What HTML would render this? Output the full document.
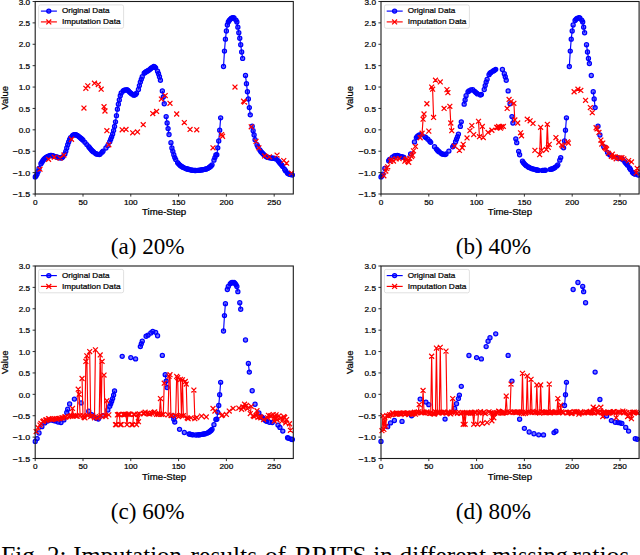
<!DOCTYPE html>
<html><head><meta charset="utf-8"><style>
html,body{margin:0;padding:0;background:#fff;overflow:hidden;}
svg{display:block;}
.t text{stroke:#000;stroke-width:0.22px;}
</style></head><body>
<svg width="640" height="555" viewBox="0 0 640 555" font-family='"Liberation Sans", sans-serif'>
<defs><clipPath id="clip0"><rect x="32.2" y="-1.5" width="264.1" height="198.5"/></clipPath><clipPath id="clip1"><rect x="378" y="-1.5" width="264.1" height="198.5"/></clipPath><clipPath id="clip2"><rect x="32.2" y="263" width="264.1" height="198.5"/></clipPath><clipPath id="clip3"><rect x="378" y="263" width="264.1" height="198.5"/></clipPath></defs>
<rect width="640" height="555" fill="#fff"/>
<g class="t">
<line x1="35.2" y1="194" x2="35.2" y2="196.6" stroke="#000" stroke-width="0.8"/>
<text x="35.2" y="204.9" font-size="7.9" text-anchor="middle" textLength="4.58" lengthAdjust="spacingAndGlyphs">0</text>
<line x1="83" y1="194" x2="83" y2="196.6" stroke="#000" stroke-width="0.8"/>
<text x="83" y="204.9" font-size="7.9" text-anchor="middle" textLength="9.16" lengthAdjust="spacingAndGlyphs">50</text>
<line x1="130.79" y1="194" x2="130.79" y2="196.6" stroke="#000" stroke-width="0.8"/>
<text x="130.79" y="204.9" font-size="7.9" text-anchor="middle" textLength="13.74" lengthAdjust="spacingAndGlyphs">100</text>
<line x1="178.59" y1="194" x2="178.59" y2="196.6" stroke="#000" stroke-width="0.8"/>
<text x="178.59" y="204.9" font-size="7.9" text-anchor="middle" textLength="13.74" lengthAdjust="spacingAndGlyphs">150</text>
<line x1="226.39" y1="194" x2="226.39" y2="196.6" stroke="#000" stroke-width="0.8"/>
<text x="226.39" y="204.9" font-size="7.9" text-anchor="middle" textLength="13.74" lengthAdjust="spacingAndGlyphs">200</text>
<line x1="274.18" y1="194" x2="274.18" y2="196.6" stroke="#000" stroke-width="0.8"/>
<text x="274.18" y="204.9" font-size="7.9" text-anchor="middle" textLength="13.74" lengthAdjust="spacingAndGlyphs">250</text>
<line x1="32.6" y1="194" x2="35.2" y2="194" stroke="#000" stroke-width="0.8"/>
<text x="30.2" y="197.2" font-size="7.9" text-anchor="end" textLength="17.48" lengthAdjust="spacingAndGlyphs">−1.5</text>
<line x1="32.6" y1="172.61" x2="35.2" y2="172.61" stroke="#000" stroke-width="0.8"/>
<text x="30.2" y="175.81" font-size="7.9" text-anchor="end" textLength="17.48" lengthAdjust="spacingAndGlyphs">−1.0</text>
<line x1="32.6" y1="151.22" x2="35.2" y2="151.22" stroke="#000" stroke-width="0.8"/>
<text x="30.2" y="154.42" font-size="7.9" text-anchor="end" textLength="17.48" lengthAdjust="spacingAndGlyphs">−0.5</text>
<line x1="32.6" y1="129.83" x2="35.2" y2="129.83" stroke="#000" stroke-width="0.8"/>
<text x="30.2" y="133.03" font-size="7.9" text-anchor="end" textLength="11.45" lengthAdjust="spacingAndGlyphs">0.0</text>
<line x1="32.6" y1="108.44" x2="35.2" y2="108.44" stroke="#000" stroke-width="0.8"/>
<text x="30.2" y="111.64" font-size="7.9" text-anchor="end" textLength="11.45" lengthAdjust="spacingAndGlyphs">0.5</text>
<line x1="32.6" y1="87.06" x2="35.2" y2="87.06" stroke="#000" stroke-width="0.8"/>
<text x="30.2" y="90.26" font-size="7.9" text-anchor="end" textLength="11.45" lengthAdjust="spacingAndGlyphs">1.0</text>
<line x1="32.6" y1="65.67" x2="35.2" y2="65.67" stroke="#000" stroke-width="0.8"/>
<text x="30.2" y="68.87" font-size="7.9" text-anchor="end" textLength="11.45" lengthAdjust="spacingAndGlyphs">1.5</text>
<line x1="32.6" y1="44.28" x2="35.2" y2="44.28" stroke="#000" stroke-width="0.8"/>
<text x="30.2" y="47.48" font-size="7.9" text-anchor="end" textLength="11.45" lengthAdjust="spacingAndGlyphs">2.0</text>
<line x1="32.6" y1="22.89" x2="35.2" y2="22.89" stroke="#000" stroke-width="0.8"/>
<text x="30.2" y="26.09" font-size="7.9" text-anchor="end" textLength="11.45" lengthAdjust="spacingAndGlyphs">2.5</text>
<line x1="32.6" y1="1.5" x2="35.2" y2="1.5" stroke="#000" stroke-width="0.8"/>
<text x="30.2" y="4.7" font-size="7.9" text-anchor="end" textLength="11.45" lengthAdjust="spacingAndGlyphs">3.0</text>
<text x="164.15" y="215" font-size="8.6" text-anchor="middle" textLength="44.2" lengthAdjust="spacingAndGlyphs">Time-Step</text>
<text transform="translate(7.6,97.75) rotate(-90)" font-size="8.6" text-anchor="middle" textLength="23.5" lengthAdjust="spacingAndGlyphs">Value</text>
<g clip-path="url(#clip0)">
<path d="M35.2 176.89L36.16 175.87L37.11 174.11L38.07 171.47L39.02 168.49M40.94 163.72L41.89 162.13L42.85 160.68L43.8 159.42L44.76 158.39L45.72 157.64L46.67 157.05L47.63 156.5M49.54 155.69L50.49 155.52L51.45 155.53L52.41 155.71L53.36 155.98M55.27 156.62L56.23 156.89L57.19 157.19L58.14 157.51L59.1 157.8M61.01 158.06L61.97 157.65L62.92 156.69M64.83 153.89L65.79 151.37L66.75 148.02L67.7 144.63L68.66 141.94L69.61 139.53L70.57 137.61M72.48 135.62L73.44 134.94L74.39 134.57L75.35 134.59L76.3 134.89L77.26 135.4L78.22 136.06L79.17 136.82L80.13 137.61L81.08 138.39L82.04 139.22L83 140.18M88.73 146.77L89.69 147.93L90.64 149.08L91.6 150.17L92.56 151.14L93.51 151.94M95.42 153.3L96.38 153.9L97.34 154.37M99.25 154.55L100.2 154.04M102.11 152.16L103.07 151.08M109.76 141.79L110.72 139.24L111.67 136.83L112.63 134.11L113.59 130.57L114.54 126.41L115.5 121.83L116.45 115.68L117.41 109.17L118.37 104.19L119.32 99.91L120.28 95.74L121.23 92.89M123.15 90.98L124.1 90.33L125.06 89.88M126.97 89.72L127.92 90.36L128.88 91.33L129.84 92.3L130.79 93.08L131.75 93.92M133.66 95.14L134.62 95.06L135.57 94.39L136.53 93.25M138.44 89.51L139.4 85.57L140.35 82.07L141.31 79.31L142.26 76.75M144.18 73.27L145.13 72.39L146.09 71.72L147.04 71.16L148 70.64L148.96 70.07L149.91 69.36L150.87 68.52L151.82 67.66M153.73 66.34L154.69 66.95L155.65 67.81M157.56 71.23L158.51 73.79L159.47 76.79L160.43 80.21M162.34 90.91L163.29 96.89L164.25 103.74M166.16 116.57L167.12 122.99L168.07 128.55L169.03 134.54M170.94 142.67L171.9 147.98L172.85 151.37L173.81 154.74L174.77 157.62L175.72 159.6M177.63 162.67L178.59 163.86L179.54 164.85L180.5 165.64L181.46 166.33L182.41 166.95L183.37 167.49M185.28 168.37L186.24 168.7L187.19 168.99L188.15 169.26L189.1 169.52M191.02 169.98L191.97 170.17L192.93 170.31L193.88 170.42L194.84 170.47L195.8 170.47M197.71 170.38L198.66 170.3L199.62 170.2L200.58 170.07L201.53 169.93L202.49 169.76L203.44 169.59L204.4 169.39L205.35 169.19L206.31 168.93L207.27 168.56L208.22 168.08L209.18 167.48L210.13 166.76L211.09 165.91L212.05 164.83M213.96 160.14L214.91 157.58L215.87 155.01L216.83 154.64L217.78 147.8L218.74 140.96L219.69 130.26L220.65 117.86M223.52 66.52L224.47 51.12L225.43 39.14L226.39 31.02L227.34 25.03L228.3 22.03L229.25 20.51L230.21 19.35L231.16 18.5L232.12 17.96L233.08 17.76L234.03 18M235.94 20.09L236.9 22.03L237.86 27.17L238.81 32.73L239.77 38.29L240.72 44.71L241.68 51.98L242.64 58.39M245.5 75.51L246.46 83.63L247.42 91.76L248.37 99.03L249.33 107.59L250.28 114.86M252.2 126.2L253.15 130.69L254.11 134.97L255.06 139.74M256.97 144.78L257.93 146.71M259.84 150.02L260.8 151.38L261.75 152.53L262.71 153.51L263.67 154.43M265.58 156.07L266.53 156.73L267.49 157.25L268.45 157.59M270.36 157.92L271.31 158.01L272.27 158.09L273.23 158.18L274.18 158.31L275.14 158.49L276.09 158.9M278.01 160.6L278.96 161.72L279.92 162.92L280.87 164.12L281.83 165.25L282.78 166.55M284.7 169.51L285.65 170.94M287.56 173.14L288.52 173.72L289.48 174.14L290.43 174.47" fill="none" stroke="#00f" stroke-width="1.15" stroke-linejoin="round"/>
<g fill="#00f" fill-opacity="0.55" stroke="#00f" stroke-width="1.25"><circle cx="35.2" cy="176.89" r="2.05"/><circle cx="36.16" cy="175.87" r="2.05"/><circle cx="37.11" cy="174.11" r="2.05"/><circle cx="38.07" cy="171.47" r="2.05"/><circle cx="39.02" cy="168.49" r="2.05"/><circle cx="40.94" cy="163.72" r="2.05"/><circle cx="41.89" cy="162.13" r="2.05"/><circle cx="42.85" cy="160.68" r="2.05"/><circle cx="43.8" cy="159.42" r="2.05"/><circle cx="44.76" cy="158.39" r="2.05"/><circle cx="45.72" cy="157.64" r="2.05"/><circle cx="46.67" cy="157.05" r="2.05"/><circle cx="47.63" cy="156.5" r="2.05"/><circle cx="49.54" cy="155.69" r="2.05"/><circle cx="50.49" cy="155.52" r="2.05"/><circle cx="51.45" cy="155.53" r="2.05"/><circle cx="52.41" cy="155.71" r="2.05"/><circle cx="53.36" cy="155.98" r="2.05"/><circle cx="55.27" cy="156.62" r="2.05"/><circle cx="56.23" cy="156.89" r="2.05"/><circle cx="57.19" cy="157.19" r="2.05"/><circle cx="58.14" cy="157.51" r="2.05"/><circle cx="59.1" cy="157.8" r="2.05"/><circle cx="61.01" cy="158.06" r="2.05"/><circle cx="61.97" cy="157.65" r="2.05"/><circle cx="62.92" cy="156.69" r="2.05"/><circle cx="64.83" cy="153.89" r="2.05"/><circle cx="65.79" cy="151.37" r="2.05"/><circle cx="66.75" cy="148.02" r="2.05"/><circle cx="67.7" cy="144.63" r="2.05"/><circle cx="68.66" cy="141.94" r="2.05"/><circle cx="69.61" cy="139.53" r="2.05"/><circle cx="70.57" cy="137.61" r="2.05"/><circle cx="72.48" cy="135.62" r="2.05"/><circle cx="73.44" cy="134.94" r="2.05"/><circle cx="74.39" cy="134.57" r="2.05"/><circle cx="75.35" cy="134.59" r="2.05"/><circle cx="76.3" cy="134.89" r="2.05"/><circle cx="77.26" cy="135.4" r="2.05"/><circle cx="78.22" cy="136.06" r="2.05"/><circle cx="79.17" cy="136.82" r="2.05"/><circle cx="80.13" cy="137.61" r="2.05"/><circle cx="81.08" cy="138.39" r="2.05"/><circle cx="82.04" cy="139.22" r="2.05"/><circle cx="83" cy="140.18" r="2.05"/><circle cx="84.91" cy="142.36" r="2.05"/><circle cx="86.82" cy="144.6" r="2.05"/><circle cx="88.73" cy="146.77" r="2.05"/><circle cx="89.69" cy="147.93" r="2.05"/><circle cx="90.64" cy="149.08" r="2.05"/><circle cx="91.6" cy="150.17" r="2.05"/><circle cx="92.56" cy="151.14" r="2.05"/><circle cx="93.51" cy="151.94" r="2.05"/><circle cx="95.42" cy="153.3" r="2.05"/><circle cx="96.38" cy="153.9" r="2.05"/><circle cx="97.34" cy="154.37" r="2.05"/><circle cx="99.25" cy="154.55" r="2.05"/><circle cx="100.2" cy="154.04" r="2.05"/><circle cx="102.11" cy="152.16" r="2.05"/><circle cx="103.07" cy="151.08" r="2.05"/><circle cx="105.94" cy="148.03" r="2.05"/><circle cx="107.85" cy="145.51" r="2.05"/><circle cx="109.76" cy="141.79" r="2.05"/><circle cx="110.72" cy="139.24" r="2.05"/><circle cx="111.67" cy="136.83" r="2.05"/><circle cx="112.63" cy="134.11" r="2.05"/><circle cx="113.59" cy="130.57" r="2.05"/><circle cx="114.54" cy="126.41" r="2.05"/><circle cx="115.5" cy="121.83" r="2.05"/><circle cx="116.45" cy="115.68" r="2.05"/><circle cx="117.41" cy="109.17" r="2.05"/><circle cx="118.37" cy="104.19" r="2.05"/><circle cx="119.32" cy="99.91" r="2.05"/><circle cx="120.28" cy="95.74" r="2.05"/><circle cx="121.23" cy="92.89" r="2.05"/><circle cx="123.15" cy="90.98" r="2.05"/><circle cx="124.1" cy="90.33" r="2.05"/><circle cx="125.06" cy="89.88" r="2.05"/><circle cx="126.97" cy="89.72" r="2.05"/><circle cx="127.92" cy="90.36" r="2.05"/><circle cx="128.88" cy="91.33" r="2.05"/><circle cx="129.84" cy="92.3" r="2.05"/><circle cx="130.79" cy="93.08" r="2.05"/><circle cx="131.75" cy="93.92" r="2.05"/><circle cx="133.66" cy="95.14" r="2.05"/><circle cx="134.62" cy="95.06" r="2.05"/><circle cx="135.57" cy="94.39" r="2.05"/><circle cx="136.53" cy="93.25" r="2.05"/><circle cx="138.44" cy="89.51" r="2.05"/><circle cx="139.4" cy="85.57" r="2.05"/><circle cx="140.35" cy="82.07" r="2.05"/><circle cx="141.31" cy="79.31" r="2.05"/><circle cx="142.26" cy="76.75" r="2.05"/><circle cx="144.18" cy="73.27" r="2.05"/><circle cx="145.13" cy="72.39" r="2.05"/><circle cx="146.09" cy="71.72" r="2.05"/><circle cx="147.04" cy="71.16" r="2.05"/><circle cx="148" cy="70.64" r="2.05"/><circle cx="148.96" cy="70.07" r="2.05"/><circle cx="149.91" cy="69.36" r="2.05"/><circle cx="150.87" cy="68.52" r="2.05"/><circle cx="151.82" cy="67.66" r="2.05"/><circle cx="153.73" cy="66.34" r="2.05"/><circle cx="154.69" cy="66.95" r="2.05"/><circle cx="155.65" cy="67.81" r="2.05"/><circle cx="157.56" cy="71.23" r="2.05"/><circle cx="158.51" cy="73.79" r="2.05"/><circle cx="159.47" cy="76.79" r="2.05"/><circle cx="160.43" cy="80.21" r="2.05"/><circle cx="162.34" cy="90.91" r="2.05"/><circle cx="163.29" cy="96.89" r="2.05"/><circle cx="164.25" cy="103.74" r="2.05"/><circle cx="166.16" cy="116.57" r="2.05"/><circle cx="167.12" cy="122.99" r="2.05"/><circle cx="168.07" cy="128.55" r="2.05"/><circle cx="169.03" cy="134.54" r="2.05"/><circle cx="170.94" cy="142.67" r="2.05"/><circle cx="171.9" cy="147.98" r="2.05"/><circle cx="172.85" cy="151.37" r="2.05"/><circle cx="173.81" cy="154.74" r="2.05"/><circle cx="174.77" cy="157.62" r="2.05"/><circle cx="175.72" cy="159.6" r="2.05"/><circle cx="177.63" cy="162.67" r="2.05"/><circle cx="178.59" cy="163.86" r="2.05"/><circle cx="179.54" cy="164.85" r="2.05"/><circle cx="180.5" cy="165.64" r="2.05"/><circle cx="181.46" cy="166.33" r="2.05"/><circle cx="182.41" cy="166.95" r="2.05"/><circle cx="183.37" cy="167.49" r="2.05"/><circle cx="185.28" cy="168.37" r="2.05"/><circle cx="186.24" cy="168.7" r="2.05"/><circle cx="187.19" cy="168.99" r="2.05"/><circle cx="188.15" cy="169.26" r="2.05"/><circle cx="189.1" cy="169.52" r="2.05"/><circle cx="191.02" cy="169.98" r="2.05"/><circle cx="191.97" cy="170.17" r="2.05"/><circle cx="192.93" cy="170.31" r="2.05"/><circle cx="193.88" cy="170.42" r="2.05"/><circle cx="194.84" cy="170.47" r="2.05"/><circle cx="195.8" cy="170.47" r="2.05"/><circle cx="197.71" cy="170.38" r="2.05"/><circle cx="198.66" cy="170.3" r="2.05"/><circle cx="199.62" cy="170.2" r="2.05"/><circle cx="200.58" cy="170.07" r="2.05"/><circle cx="201.53" cy="169.93" r="2.05"/><circle cx="202.49" cy="169.76" r="2.05"/><circle cx="203.44" cy="169.59" r="2.05"/><circle cx="204.4" cy="169.39" r="2.05"/><circle cx="205.35" cy="169.19" r="2.05"/><circle cx="206.31" cy="168.93" r="2.05"/><circle cx="207.27" cy="168.56" r="2.05"/><circle cx="208.22" cy="168.08" r="2.05"/><circle cx="209.18" cy="167.48" r="2.05"/><circle cx="210.13" cy="166.76" r="2.05"/><circle cx="211.09" cy="165.91" r="2.05"/><circle cx="212.05" cy="164.83" r="2.05"/><circle cx="213.96" cy="160.14" r="2.05"/><circle cx="214.91" cy="157.58" r="2.05"/><circle cx="215.87" cy="155.01" r="2.05"/><circle cx="216.83" cy="154.64" r="2.05"/><circle cx="217.78" cy="147.8" r="2.05"/><circle cx="218.74" cy="140.96" r="2.05"/><circle cx="219.69" cy="130.26" r="2.05"/><circle cx="220.65" cy="117.86" r="2.05"/><circle cx="223.52" cy="66.52" r="2.05"/><circle cx="224.47" cy="51.12" r="2.05"/><circle cx="225.43" cy="39.14" r="2.05"/><circle cx="226.39" cy="31.02" r="2.05"/><circle cx="227.34" cy="25.03" r="2.05"/><circle cx="228.3" cy="22.03" r="2.05"/><circle cx="229.25" cy="20.51" r="2.05"/><circle cx="230.21" cy="19.35" r="2.05"/><circle cx="231.16" cy="18.5" r="2.05"/><circle cx="232.12" cy="17.96" r="2.05"/><circle cx="233.08" cy="17.76" r="2.05"/><circle cx="234.03" cy="18" r="2.05"/><circle cx="235.94" cy="20.09" r="2.05"/><circle cx="236.9" cy="22.03" r="2.05"/><circle cx="237.86" cy="27.17" r="2.05"/><circle cx="238.81" cy="32.73" r="2.05"/><circle cx="239.77" cy="38.29" r="2.05"/><circle cx="240.72" cy="44.71" r="2.05"/><circle cx="241.68" cy="51.98" r="2.05"/><circle cx="242.64" cy="58.39" r="2.05"/><circle cx="245.5" cy="75.51" r="2.05"/><circle cx="246.46" cy="83.63" r="2.05"/><circle cx="247.42" cy="91.76" r="2.05"/><circle cx="248.37" cy="99.03" r="2.05"/><circle cx="249.33" cy="107.59" r="2.05"/><circle cx="250.28" cy="114.86" r="2.05"/><circle cx="252.2" cy="126.2" r="2.05"/><circle cx="253.15" cy="130.69" r="2.05"/><circle cx="254.11" cy="134.97" r="2.05"/><circle cx="255.06" cy="139.74" r="2.05"/><circle cx="256.97" cy="144.78" r="2.05"/><circle cx="257.93" cy="146.71" r="2.05"/><circle cx="259.84" cy="150.02" r="2.05"/><circle cx="260.8" cy="151.38" r="2.05"/><circle cx="261.75" cy="152.53" r="2.05"/><circle cx="262.71" cy="153.51" r="2.05"/><circle cx="263.67" cy="154.43" r="2.05"/><circle cx="265.58" cy="156.07" r="2.05"/><circle cx="266.53" cy="156.73" r="2.05"/><circle cx="267.49" cy="157.25" r="2.05"/><circle cx="268.45" cy="157.59" r="2.05"/><circle cx="270.36" cy="157.92" r="2.05"/><circle cx="271.31" cy="158.01" r="2.05"/><circle cx="272.27" cy="158.09" r="2.05"/><circle cx="273.23" cy="158.18" r="2.05"/><circle cx="274.18" cy="158.31" r="2.05"/><circle cx="275.14" cy="158.49" r="2.05"/><circle cx="276.09" cy="158.9" r="2.05"/><circle cx="278.01" cy="160.6" r="2.05"/><circle cx="278.96" cy="161.72" r="2.05"/><circle cx="279.92" cy="162.92" r="2.05"/><circle cx="280.87" cy="164.12" r="2.05"/><circle cx="281.83" cy="165.25" r="2.05"/><circle cx="282.78" cy="166.55" r="2.05"/><circle cx="284.7" cy="169.51" r="2.05"/><circle cx="285.65" cy="170.94" r="2.05"/><circle cx="287.56" cy="173.14" r="2.05"/><circle cx="288.52" cy="173.72" r="2.05"/><circle cx="289.48" cy="174.14" r="2.05"/><circle cx="290.43" cy="174.47" r="2.05"/><circle cx="292.34" cy="174.99" r="2.05"/></g>
<path d="M104.03 106.73L104.98 111.01M221.61 134.54L222.56 136.25M243.59 101.17L244.55 102.03" fill="none" stroke="#f00" stroke-width="1.15" stroke-linejoin="round"/>
<path d="M37.53 166.74L42.43 171.64M37.53 171.64L42.43 166.74M46.13 156.9L51.03 161.8M46.13 161.8L51.03 156.9M51.87 154.76L56.77 159.66M51.87 159.66L56.77 154.76M57.6 155.62L62.5 160.52M57.6 160.52L62.5 155.62M61.43 152.62L66.33 157.52M61.43 157.52L66.33 152.62M69.08 136.79L73.98 141.69M69.08 141.69L73.98 136.79M81.5 105.57L86.4 110.47M81.5 110.47L86.4 105.57M83.41 85.89L88.31 90.79M83.41 90.79L88.31 85.89M85.33 83.32L90.23 88.22M85.33 88.22L90.23 83.32M92.02 80.76L96.92 85.66M92.02 85.66L96.92 80.76M95.84 82.04L100.74 86.94M95.84 86.94L100.74 82.04M98.71 86.74L103.61 91.64M98.71 91.64L103.61 86.74M101.58 104.28L106.48 109.18M101.58 109.18L106.48 104.28M102.53 108.56L107.43 113.46M102.53 113.46L107.43 108.56M104.44 128.24L109.34 133.14M104.44 133.14L109.34 128.24M106.36 142.36L111.26 147.26M106.36 147.26L111.26 142.36M119.74 127.38L124.64 132.28M119.74 132.28L124.64 127.38M123.56 126.96L128.46 131.86M123.56 131.86L128.46 126.96M130.25 130.38L135.15 135.28M130.25 135.28L135.15 130.38M135.03 129.52L139.93 134.42M135.03 134.42L139.93 129.52M140.77 122.25L145.67 127.15M140.77 127.15L145.67 122.25M150.33 111.13L155.23 116.03M150.33 116.03L155.23 111.13M154.15 108.99L159.05 113.89M154.15 113.89L159.05 108.99M158.93 96.58L163.83 101.48M158.93 101.48L163.83 96.58M162.76 93.16L167.66 98.06M162.76 98.06L167.66 93.16M167.54 100.86L172.44 105.76M167.54 105.76L172.44 100.86M174.23 111.56L179.13 116.46M174.23 116.46L179.13 111.56M181.87 120.11L186.77 125.01M181.87 125.01L186.77 120.11M187.61 126.96L192.51 131.86M187.61 131.86L192.51 126.96M194.3 127.38L199.2 132.28M194.3 132.28L199.2 127.38M210.55 145.35L215.45 150.25M210.55 150.25L215.45 145.35M219.16 132.09L224.06 136.99M219.16 136.99L224.06 132.09M220.11 133.8L225.01 138.7M220.11 138.7L225.01 133.8M232.54 84.61L237.44 89.51M232.54 89.51L237.44 84.61M241.14 98.72L246.04 103.62M241.14 103.62L246.04 98.72M242.1 99.58L247 104.48M242.1 104.48L247 99.58M248.79 124.39L253.69 129.29M248.79 129.29L253.69 124.39M253.57 138.93L258.47 143.83M253.57 143.83L258.47 138.93M256.44 145.35L261.34 150.25M256.44 150.25L261.34 145.35M262.17 153.48L267.07 158.38M262.17 158.38L267.07 153.48M266.95 154.33L271.85 159.23M266.95 159.23L271.85 154.33M274.6 152.62L279.5 157.52M274.6 157.52L279.5 152.62M281.29 158.18L286.19 163.08M281.29 163.08L286.19 158.18M284.16 160.75L289.06 165.65M284.16 165.65L289.06 160.75M288.94 170.59L293.84 175.49M288.94 175.49L293.84 170.59" stroke="#f00" stroke-width="1.25" fill="none"/>
</g>
<rect x="35.2" y="1.5" width="258.1" height="192.5" fill="none" stroke="#1a1a1a" stroke-width="1.1"/>
<rect x="38.6" y="4.9" width="85" height="23.4" rx="1.8" fill="#fff" fill-opacity="0.8" stroke="#d5d5d5" stroke-width="0.75"/>
<line x1="40.9" y1="11.1" x2="56.9" y2="11.1" stroke="#00f" stroke-width="1.15"/>
<circle cx="48.8" cy="11.1" r="2.05" fill="#00f" fill-opacity="0.55" stroke="#00f" stroke-width="1.25"/>
<text x="61.9" y="13.3" font-size="7.9" textLength="47.65" lengthAdjust="spacingAndGlyphs">Original Data</text>
<line x1="40.9" y1="21.9" x2="56.9" y2="21.9" stroke="#f00" stroke-width="1.15"/>
<path d="M46.35 19.45L51.25 24.35M46.35 24.35L51.25 19.45" stroke="#f00" stroke-width="1.25"/>
<text x="61.9" y="24.1" font-size="7.9" textLength="58.78" lengthAdjust="spacingAndGlyphs">Imputation Data</text>
<line x1="381" y1="194" x2="381" y2="196.6" stroke="#000" stroke-width="0.8"/>
<text x="381" y="204.9" font-size="7.9" text-anchor="middle" textLength="4.58" lengthAdjust="spacingAndGlyphs">0</text>
<line x1="428.8" y1="194" x2="428.8" y2="196.6" stroke="#000" stroke-width="0.8"/>
<text x="428.8" y="204.9" font-size="7.9" text-anchor="middle" textLength="9.16" lengthAdjust="spacingAndGlyphs">50</text>
<line x1="476.59" y1="194" x2="476.59" y2="196.6" stroke="#000" stroke-width="0.8"/>
<text x="476.59" y="204.9" font-size="7.9" text-anchor="middle" textLength="13.74" lengthAdjust="spacingAndGlyphs">100</text>
<line x1="524.39" y1="194" x2="524.39" y2="196.6" stroke="#000" stroke-width="0.8"/>
<text x="524.39" y="204.9" font-size="7.9" text-anchor="middle" textLength="13.74" lengthAdjust="spacingAndGlyphs">150</text>
<line x1="572.19" y1="194" x2="572.19" y2="196.6" stroke="#000" stroke-width="0.8"/>
<text x="572.19" y="204.9" font-size="7.9" text-anchor="middle" textLength="13.74" lengthAdjust="spacingAndGlyphs">200</text>
<line x1="619.98" y1="194" x2="619.98" y2="196.6" stroke="#000" stroke-width="0.8"/>
<text x="619.98" y="204.9" font-size="7.9" text-anchor="middle" textLength="13.74" lengthAdjust="spacingAndGlyphs">250</text>
<line x1="378.4" y1="194" x2="381" y2="194" stroke="#000" stroke-width="0.8"/>
<text x="376" y="197.2" font-size="7.9" text-anchor="end" textLength="17.48" lengthAdjust="spacingAndGlyphs">−1.5</text>
<line x1="378.4" y1="172.61" x2="381" y2="172.61" stroke="#000" stroke-width="0.8"/>
<text x="376" y="175.81" font-size="7.9" text-anchor="end" textLength="17.48" lengthAdjust="spacingAndGlyphs">−1.0</text>
<line x1="378.4" y1="151.22" x2="381" y2="151.22" stroke="#000" stroke-width="0.8"/>
<text x="376" y="154.42" font-size="7.9" text-anchor="end" textLength="17.48" lengthAdjust="spacingAndGlyphs">−0.5</text>
<line x1="378.4" y1="129.83" x2="381" y2="129.83" stroke="#000" stroke-width="0.8"/>
<text x="376" y="133.03" font-size="7.9" text-anchor="end" textLength="11.45" lengthAdjust="spacingAndGlyphs">0.0</text>
<line x1="378.4" y1="108.44" x2="381" y2="108.44" stroke="#000" stroke-width="0.8"/>
<text x="376" y="111.64" font-size="7.9" text-anchor="end" textLength="11.45" lengthAdjust="spacingAndGlyphs">0.5</text>
<line x1="378.4" y1="87.06" x2="381" y2="87.06" stroke="#000" stroke-width="0.8"/>
<text x="376" y="90.26" font-size="7.9" text-anchor="end" textLength="11.45" lengthAdjust="spacingAndGlyphs">1.0</text>
<line x1="378.4" y1="65.67" x2="381" y2="65.67" stroke="#000" stroke-width="0.8"/>
<text x="376" y="68.87" font-size="7.9" text-anchor="end" textLength="11.45" lengthAdjust="spacingAndGlyphs">1.5</text>
<line x1="378.4" y1="44.28" x2="381" y2="44.28" stroke="#000" stroke-width="0.8"/>
<text x="376" y="47.48" font-size="7.9" text-anchor="end" textLength="11.45" lengthAdjust="spacingAndGlyphs">2.0</text>
<line x1="378.4" y1="22.89" x2="381" y2="22.89" stroke="#000" stroke-width="0.8"/>
<text x="376" y="26.09" font-size="7.9" text-anchor="end" textLength="11.45" lengthAdjust="spacingAndGlyphs">2.5</text>
<line x1="378.4" y1="1.5" x2="381" y2="1.5" stroke="#000" stroke-width="0.8"/>
<text x="376" y="4.7" font-size="7.9" text-anchor="end" textLength="11.45" lengthAdjust="spacingAndGlyphs">3.0</text>
<text x="509.95" y="215" font-size="8.6" text-anchor="middle" textLength="44.2" lengthAdjust="spacingAndGlyphs">Time-Step</text>
<text transform="translate(353.4,97.75) rotate(-90)" font-size="8.6" text-anchor="middle" textLength="23.5" lengthAdjust="spacingAndGlyphs">Value</text>
<g clip-path="url(#clip1)">
<path d="M381 176.89L381.96 175.87L382.91 174.11M388.65 160.68L389.6 159.42M394.38 156.04L395.34 155.69M397.25 155.53L398.21 155.71M400.12 156.31L401.07 156.62L402.03 156.89L402.99 157.19L403.94 157.51M416.37 137.61L417.33 136.51L418.28 135.62L419.24 134.94M424.97 136.82L425.93 137.61M429.75 141.24L430.71 142.36M436.44 149.08L437.4 150.17L438.36 151.14L439.31 151.94M441.22 153.3L442.18 153.9L443.14 154.37M445.05 154.55L446 154.04M452.69 146.85L453.65 145.51M455.56 141.79L456.52 139.24L457.47 136.83L458.43 134.11M460.34 126.41L461.3 121.83M464.17 104.19L465.12 99.91L466.08 95.74M467.99 91.82L468.95 90.98M474.68 91.33L475.64 92.3L476.59 93.08L477.55 93.92M480.42 95.06L481.37 94.39M484.24 89.51L485.2 85.57L486.15 82.07L487.11 79.31M489.02 74.65L489.98 73.27L490.93 72.39M492.84 71.16L493.8 70.64L494.76 70.07L495.71 69.36M504.31 73.79L505.27 76.79L506.23 80.21M511.96 116.57L512.92 122.99M515.79 138.82L516.74 142.67M518.65 151.37L519.61 154.74M522.48 161.25L523.43 162.67L524.39 163.86L525.34 164.85L526.3 165.64M528.21 166.95L529.17 167.49M531.08 168.37L532.04 168.7M535.86 169.76L536.82 169.98L537.77 170.17L538.73 170.31M542.55 170.44L543.51 170.38L544.46 170.3L545.42 170.2M550.2 169.39L551.15 169.19L552.11 168.93L553.07 168.56L554.02 168.08L554.98 167.48M556.89 165.91L557.85 164.83M559.76 160.14L560.71 157.58M563.58 147.8L564.54 140.96L565.49 130.26L566.45 117.86M569.32 66.52L570.27 51.12L571.23 39.14L572.19 31.02L573.14 25.03M575.05 20.51L576.01 19.35L576.96 18.5M578.88 17.76L579.83 18M581.74 20.09L582.7 22.03L583.66 27.17L584.61 32.73M586.52 44.71L587.48 51.98L588.44 58.39L589.39 63.53M593.22 91.76L594.17 99.03L595.13 107.59M609.47 154.43L610.42 155.3M617.11 158.01L618.07 158.09L619.03 158.18M624.76 161.72L625.72 162.92L626.67 164.12L627.63 165.25M629.54 168L630.5 169.51M632.41 172.19L633.36 173.14L634.32 173.72L635.28 174.14" fill="none" stroke="#00f" stroke-width="1.15" stroke-linejoin="round"/>
<g fill="#00f" fill-opacity="0.55" stroke="#00f" stroke-width="1.25"><circle cx="381" cy="176.89" r="2.05"/><circle cx="381.96" cy="175.87" r="2.05"/><circle cx="382.91" cy="174.11" r="2.05"/><circle cx="384.82" cy="168.49" r="2.05"/><circle cx="388.65" cy="160.68" r="2.05"/><circle cx="389.6" cy="159.42" r="2.05"/><circle cx="392.47" cy="157.05" r="2.05"/><circle cx="394.38" cy="156.04" r="2.05"/><circle cx="395.34" cy="155.69" r="2.05"/><circle cx="397.25" cy="155.53" r="2.05"/><circle cx="398.21" cy="155.71" r="2.05"/><circle cx="400.12" cy="156.31" r="2.05"/><circle cx="401.07" cy="156.62" r="2.05"/><circle cx="402.03" cy="156.89" r="2.05"/><circle cx="402.99" cy="157.19" r="2.05"/><circle cx="403.94" cy="157.51" r="2.05"/><circle cx="410.63" cy="153.89" r="2.05"/><circle cx="414.46" cy="141.94" r="2.05"/><circle cx="416.37" cy="137.61" r="2.05"/><circle cx="417.33" cy="136.51" r="2.05"/><circle cx="418.28" cy="135.62" r="2.05"/><circle cx="419.24" cy="134.94" r="2.05"/><circle cx="421.15" cy="134.59" r="2.05"/><circle cx="424.97" cy="136.82" r="2.05"/><circle cx="425.93" cy="137.61" r="2.05"/><circle cx="427.84" cy="139.22" r="2.05"/><circle cx="429.75" cy="141.24" r="2.05"/><circle cx="430.71" cy="142.36" r="2.05"/><circle cx="434.53" cy="146.77" r="2.05"/><circle cx="436.44" cy="149.08" r="2.05"/><circle cx="437.4" cy="150.17" r="2.05"/><circle cx="438.36" cy="151.14" r="2.05"/><circle cx="439.31" cy="151.94" r="2.05"/><circle cx="441.22" cy="153.3" r="2.05"/><circle cx="442.18" cy="153.9" r="2.05"/><circle cx="443.14" cy="154.37" r="2.05"/><circle cx="445.05" cy="154.55" r="2.05"/><circle cx="446" cy="154.04" r="2.05"/><circle cx="448.87" cy="151.08" r="2.05"/><circle cx="452.69" cy="146.85" r="2.05"/><circle cx="453.65" cy="145.51" r="2.05"/><circle cx="455.56" cy="141.79" r="2.05"/><circle cx="456.52" cy="139.24" r="2.05"/><circle cx="457.47" cy="136.83" r="2.05"/><circle cx="458.43" cy="134.11" r="2.05"/><circle cx="460.34" cy="126.41" r="2.05"/><circle cx="461.3" cy="121.83" r="2.05"/><circle cx="464.17" cy="104.19" r="2.05"/><circle cx="465.12" cy="99.91" r="2.05"/><circle cx="466.08" cy="95.74" r="2.05"/><circle cx="467.99" cy="91.82" r="2.05"/><circle cx="468.95" cy="90.98" r="2.05"/><circle cx="470.86" cy="89.88" r="2.05"/><circle cx="472.77" cy="89.72" r="2.05"/><circle cx="474.68" cy="91.33" r="2.05"/><circle cx="475.64" cy="92.3" r="2.05"/><circle cx="476.59" cy="93.08" r="2.05"/><circle cx="477.55" cy="93.92" r="2.05"/><circle cx="480.42" cy="95.06" r="2.05"/><circle cx="481.37" cy="94.39" r="2.05"/><circle cx="484.24" cy="89.51" r="2.05"/><circle cx="485.2" cy="85.57" r="2.05"/><circle cx="486.15" cy="82.07" r="2.05"/><circle cx="487.11" cy="79.31" r="2.05"/><circle cx="489.02" cy="74.65" r="2.05"/><circle cx="489.98" cy="73.27" r="2.05"/><circle cx="490.93" cy="72.39" r="2.05"/><circle cx="492.84" cy="71.16" r="2.05"/><circle cx="493.8" cy="70.64" r="2.05"/><circle cx="494.76" cy="70.07" r="2.05"/><circle cx="495.71" cy="69.36" r="2.05"/><circle cx="502.4" cy="69.52" r="2.05"/><circle cx="504.31" cy="73.79" r="2.05"/><circle cx="505.27" cy="76.79" r="2.05"/><circle cx="506.23" cy="80.21" r="2.05"/><circle cx="508.14" cy="90.91" r="2.05"/><circle cx="510.05" cy="103.74" r="2.05"/><circle cx="511.96" cy="116.57" r="2.05"/><circle cx="512.92" cy="122.99" r="2.05"/><circle cx="515.79" cy="138.82" r="2.05"/><circle cx="516.74" cy="142.67" r="2.05"/><circle cx="518.65" cy="151.37" r="2.05"/><circle cx="519.61" cy="154.74" r="2.05"/><circle cx="522.48" cy="161.25" r="2.05"/><circle cx="523.43" cy="162.67" r="2.05"/><circle cx="524.39" cy="163.86" r="2.05"/><circle cx="525.34" cy="164.85" r="2.05"/><circle cx="526.3" cy="165.64" r="2.05"/><circle cx="528.21" cy="166.95" r="2.05"/><circle cx="529.17" cy="167.49" r="2.05"/><circle cx="531.08" cy="168.37" r="2.05"/><circle cx="532.04" cy="168.7" r="2.05"/><circle cx="533.95" cy="169.26" r="2.05"/><circle cx="535.86" cy="169.76" r="2.05"/><circle cx="536.82" cy="169.98" r="2.05"/><circle cx="537.77" cy="170.17" r="2.05"/><circle cx="538.73" cy="170.31" r="2.05"/><circle cx="542.55" cy="170.44" r="2.05"/><circle cx="543.51" cy="170.38" r="2.05"/><circle cx="544.46" cy="170.3" r="2.05"/><circle cx="545.42" cy="170.2" r="2.05"/><circle cx="550.2" cy="169.39" r="2.05"/><circle cx="551.15" cy="169.19" r="2.05"/><circle cx="552.11" cy="168.93" r="2.05"/><circle cx="553.07" cy="168.56" r="2.05"/><circle cx="554.02" cy="168.08" r="2.05"/><circle cx="554.98" cy="167.48" r="2.05"/><circle cx="556.89" cy="165.91" r="2.05"/><circle cx="557.85" cy="164.83" r="2.05"/><circle cx="559.76" cy="160.14" r="2.05"/><circle cx="560.71" cy="157.58" r="2.05"/><circle cx="563.58" cy="147.8" r="2.05"/><circle cx="564.54" cy="140.96" r="2.05"/><circle cx="565.49" cy="130.26" r="2.05"/><circle cx="566.45" cy="117.86" r="2.05"/><circle cx="569.32" cy="66.52" r="2.05"/><circle cx="570.27" cy="51.12" r="2.05"/><circle cx="571.23" cy="39.14" r="2.05"/><circle cx="572.19" cy="31.02" r="2.05"/><circle cx="573.14" cy="25.03" r="2.05"/><circle cx="575.05" cy="20.51" r="2.05"/><circle cx="576.01" cy="19.35" r="2.05"/><circle cx="576.96" cy="18.5" r="2.05"/><circle cx="578.88" cy="17.76" r="2.05"/><circle cx="579.83" cy="18" r="2.05"/><circle cx="581.74" cy="20.09" r="2.05"/><circle cx="582.7" cy="22.03" r="2.05"/><circle cx="583.66" cy="27.17" r="2.05"/><circle cx="584.61" cy="32.73" r="2.05"/><circle cx="586.52" cy="44.71" r="2.05"/><circle cx="587.48" cy="51.98" r="2.05"/><circle cx="588.44" cy="58.39" r="2.05"/><circle cx="589.39" cy="63.53" r="2.05"/><circle cx="591.3" cy="75.51" r="2.05"/><circle cx="593.22" cy="91.76" r="2.05"/><circle cx="594.17" cy="99.03" r="2.05"/><circle cx="595.13" cy="107.59" r="2.05"/><circle cx="598" cy="126.2" r="2.05"/><circle cx="599.91" cy="134.97" r="2.05"/><circle cx="603.73" cy="146.71" r="2.05"/><circle cx="607.55" cy="152.53" r="2.05"/><circle cx="609.47" cy="154.43" r="2.05"/><circle cx="610.42" cy="155.3" r="2.05"/><circle cx="617.11" cy="158.01" r="2.05"/><circle cx="618.07" cy="158.09" r="2.05"/><circle cx="619.03" cy="158.18" r="2.05"/><circle cx="620.94" cy="158.49" r="2.05"/><circle cx="622.85" cy="159.63" r="2.05"/><circle cx="624.76" cy="161.72" r="2.05"/><circle cx="625.72" cy="162.92" r="2.05"/><circle cx="626.67" cy="164.12" r="2.05"/><circle cx="627.63" cy="165.25" r="2.05"/><circle cx="629.54" cy="168" r="2.05"/><circle cx="630.5" cy="169.51" r="2.05"/><circle cx="632.41" cy="172.19" r="2.05"/><circle cx="633.36" cy="173.14" r="2.05"/><circle cx="634.32" cy="173.72" r="2.05"/><circle cx="635.28" cy="174.14" r="2.05"/><circle cx="638.14" cy="174.99" r="2.05"/></g>
<path d="M385.78 171.04L386.74 168.37L387.69 166.83M390.56 161.24L391.52 159.5M404.9 161.21L405.85 159.73L406.81 158.88L407.77 161.32L408.72 162.29L409.68 158.3M411.59 156.57L412.55 155.15L413.5 150.77M422.1 133.26L423.06 119.14L424.02 114.01M431.66 87.06L432.62 89.19L433.58 117.43M446.96 89.62L447.91 92.62M449.83 106.31L450.78 122.99L451.74 130.69M462.25 147.8L463.21 144.38M478.5 121.28L479.46 136.68M482.33 126.41L483.28 137.53M496.67 127.27L497.62 127.69L498.58 126.41L499.53 127.27L500.49 128.12L501.45 126.84M513.87 103.31L514.83 119.99M520.57 132.83L521.52 135.82M539.68 154.64L540.64 127.27L541.6 150.37M546.38 149.51L547.33 124.27L548.29 147.37L549.24 144.38M561.67 144.81L562.63 146.09M567.41 141.81L568.36 143.09M596.08 127.69L597.04 128.98M600.86 140.1L601.82 144.02L602.77 143.09M604.69 147.37L605.64 148.18L606.6 149.17M611.38 156.36L612.33 154.16L613.29 156.95L614.25 157.22L615.2 156.78L616.16 158.77M636.23 172.83L637.19 168.33" fill="none" stroke="#f00" stroke-width="1.15" stroke-linejoin="round"/>
<path d="M381.42 173.39L386.32 178.29M381.42 178.29L386.32 173.39M383.33 168.59L388.23 173.49M383.33 173.49L388.23 168.59M384.29 165.92L389.19 170.82M384.29 170.82L389.19 165.92M385.24 164.38L390.14 169.28M385.24 169.28L390.14 164.38M388.11 158.79L393.01 163.69M388.11 163.69L393.01 158.79M389.07 157.05L393.97 161.95M389.07 161.95L393.97 157.05M390.98 158.56L395.88 163.46M390.98 163.46L395.88 158.56M393.84 156.36L398.74 161.26M393.84 161.26L398.74 156.36M396.71 156.28L401.61 161.18M396.71 161.18L401.61 156.28M402.45 158.76L407.35 163.66M402.45 163.66L407.35 158.76M403.4 157.28L408.3 162.18M403.4 162.18L408.3 157.28M404.36 156.43L409.26 161.33M404.36 161.33L409.26 156.43M405.32 158.87L410.22 163.77M405.32 163.77L410.22 158.87M406.27 159.84L411.17 164.74M406.27 164.74L411.17 159.84M407.23 155.85L412.13 160.75M407.23 160.75L412.13 155.85M409.14 154.12L414.04 159.02M409.14 159.02L414.04 154.12M410.1 152.7L415 157.6M410.1 157.6L415 152.7M411.05 148.32L415.95 153.22M411.05 153.22L415.95 148.32M412.96 143.98L417.86 148.88M412.96 148.88L417.86 143.98M417.74 135.29L422.64 140.19M417.74 140.19L422.64 135.29M419.65 130.81L424.55 135.71M419.65 135.71L424.55 130.81M420.61 116.69L425.51 121.59M420.61 121.59L425.51 116.69M421.57 111.56L426.47 116.46M421.57 116.46L426.47 111.56M424.43 101.29L429.33 106.19M424.43 106.19L429.33 101.29M426.35 128.67L431.25 133.57M426.35 133.57L431.25 128.67M429.21 84.61L434.11 89.51M429.21 89.51L434.11 84.61M430.17 86.74L435.07 91.64M430.17 91.64L435.07 86.74M431.13 114.98L436.03 119.88M431.13 119.88L436.03 114.98M433.04 77.76L437.94 82.66M433.04 82.66L437.94 77.76M437.82 79.47L442.72 84.37M437.82 84.37L442.72 79.47M441.64 105.99L446.54 110.89M441.64 110.89L446.54 105.99M444.51 87.17L449.41 92.07M444.51 92.07L449.41 87.17M445.46 90.17L450.36 95.07M445.46 95.07L450.36 90.17M447.38 103.86L452.28 108.76M447.38 108.76L452.28 103.86M448.33 120.54L453.23 125.44M448.33 125.44L453.23 120.54M449.29 128.24L454.19 133.14M449.29 133.14L454.19 128.24M452.16 143.64L457.06 148.54M452.16 148.54L457.06 143.64M456.94 147.92L461.84 152.82M456.94 152.82L461.84 147.92M459.8 145.35L464.7 150.25M459.8 150.25L464.7 145.35M460.76 141.93L465.66 146.83M460.76 146.83L465.66 141.93M464.58 135.51L469.48 140.41M464.58 140.41L469.48 135.51M467.45 128.24L472.35 133.14M467.45 133.14L472.35 128.24M469.36 123.11L474.26 128.01M469.36 128.01L474.26 123.11M471.27 132.09L476.17 136.99M471.27 136.99L476.17 132.09M476.05 118.83L480.95 123.73M476.05 123.73L480.95 118.83M477.01 134.23L481.91 139.13M477.01 139.13L481.91 134.23M479.88 123.96L484.78 128.86M479.88 128.86L484.78 123.96M480.83 135.08L485.73 139.98M480.83 139.98L485.73 135.08M485.61 129.95L490.51 134.85M485.61 134.85L490.51 129.95M489.44 127.81L494.34 132.71M489.44 132.71L494.34 127.81M494.22 124.82L499.12 129.72M494.22 129.72L499.12 124.82M495.17 125.24L500.07 130.14M495.17 130.14L500.07 125.24M496.13 123.96L501.03 128.86M496.13 128.86L501.03 123.96M497.08 124.82L501.98 129.72M497.08 129.72L501.98 124.82M498.04 125.67L502.94 130.57M498.04 130.57L502.94 125.67M499 124.39L503.9 129.29M499 129.29L503.9 124.39M500.91 123.96L505.81 128.86M500.91 128.86L505.81 123.96M504.73 105.99L509.63 110.89M504.73 110.89L509.63 105.99M506.64 97.01L511.54 101.91M506.64 101.91L511.54 97.01M508.56 99.15L513.46 104.05M508.56 104.05L513.46 99.15M511.42 100.86L516.32 105.76M511.42 105.76L516.32 100.86M512.38 117.54L517.28 122.44M512.38 122.44L517.28 117.54M515.25 120.54L520.15 125.44M515.25 125.44L520.15 120.54M518.12 130.38L523.02 135.28M518.12 135.28L523.02 130.38M519.07 133.37L523.97 138.27M519.07 138.27L523.97 133.37M524.81 116.69L529.71 121.59M524.81 121.59L529.71 116.69M527.67 118.4L532.57 123.3M527.67 123.3L532.57 118.4M530.54 120.97L535.44 125.87M530.54 125.87L535.44 120.97M532.45 147.92L537.35 152.82M532.45 152.82L537.35 147.92M537.23 152.19L542.13 157.09M537.23 157.09L542.13 152.19M538.19 124.82L543.09 129.72M538.19 129.72L543.09 124.82M539.15 147.92L544.05 152.82M539.15 152.82L544.05 147.92M543.93 147.06L548.83 151.96M543.93 151.96L548.83 147.06M544.88 121.82L549.78 126.72M544.88 126.72L549.78 121.82M545.84 144.92L550.74 149.82M545.84 149.82L550.74 144.92M546.79 141.93L551.69 146.83M546.79 146.83L551.69 141.93M553.48 135.08L558.38 139.98M553.48 139.98L558.38 135.08M556.35 139.79L561.25 144.69M556.35 144.69L561.25 139.79M559.22 142.36L564.12 147.26M559.22 147.26L564.12 142.36M560.18 143.64L565.08 148.54M560.18 148.54L565.08 143.64M564.96 139.36L569.86 144.26M564.96 144.26L569.86 139.36M565.91 140.64L570.81 145.54M565.91 145.54L570.81 140.64M571.65 89.31L576.55 94.21M571.65 94.21L576.55 89.31M575.47 86.74L580.37 91.64M575.47 91.64L580.37 86.74M578.34 88.03L583.24 92.93M578.34 92.93L583.24 88.03M583.12 97.87L588.02 102.77M583.12 102.77L588.02 97.87M587.9 105.14L592.8 110.04M587.9 110.04L592.8 105.14M589.81 110.27L594.71 115.17M589.81 115.17L594.71 110.27M593.63 125.24L598.53 130.14M593.63 130.14L598.53 125.24M594.59 126.53L599.49 131.43M594.59 131.43L599.49 126.53M596.5 129.95L601.4 134.85M596.5 134.85L601.4 129.95M598.41 137.65L603.31 142.55M598.41 142.55L603.31 137.65M599.37 141.57L604.27 146.47M599.37 146.47L604.27 141.57M600.32 140.64L605.22 145.54M600.32 145.54L605.22 140.64M602.24 144.92L607.14 149.82M602.24 149.82L607.14 144.92M603.19 145.73L608.09 150.63M603.19 150.63L608.09 145.73M604.15 146.72L609.05 151.62M604.15 151.62L609.05 146.72M606.06 150.91L610.96 155.81M606.06 155.81L610.96 150.91M608.93 153.91L613.83 158.81M608.93 158.81L613.83 153.91M609.88 151.71L614.78 156.61M609.88 156.61L614.78 151.71M610.84 154.5L615.74 159.4M610.84 159.4L615.74 154.5M611.8 154.77L616.7 159.67M611.8 159.67L616.7 154.77M612.75 154.33L617.65 159.23M612.75 159.23L617.65 154.33M613.71 156.32L618.61 161.22M613.71 161.22L618.61 156.32M617.53 155.19L622.43 160.09M617.53 160.09L622.43 155.19M619.44 155.31L624.34 160.21M619.44 160.21L624.34 155.31M621.36 156.47L626.26 161.37M621.36 161.37L626.26 156.47M626.13 158.18L631.03 163.08M626.13 163.08L631.03 158.18M629 159.47L633.9 164.37M629 164.37L633.9 159.47M633.78 170.38L638.68 175.28M633.78 175.28L638.68 170.38M634.74 165.88L639.64 170.78M634.74 170.78L639.64 165.88" stroke="#f00" stroke-width="1.25" fill="none"/>
</g>
<rect x="381" y="1.5" width="258.1" height="192.5" fill="none" stroke="#1a1a1a" stroke-width="1.1"/>
<rect x="384.4" y="4.9" width="85" height="23.4" rx="1.8" fill="#fff" fill-opacity="0.8" stroke="#d5d5d5" stroke-width="0.75"/>
<line x1="386.7" y1="11.1" x2="402.7" y2="11.1" stroke="#00f" stroke-width="1.15"/>
<circle cx="394.6" cy="11.1" r="2.05" fill="#00f" fill-opacity="0.55" stroke="#00f" stroke-width="1.25"/>
<text x="407.7" y="13.3" font-size="7.9" textLength="47.65" lengthAdjust="spacingAndGlyphs">Original Data</text>
<line x1="386.7" y1="21.9" x2="402.7" y2="21.9" stroke="#f00" stroke-width="1.15"/>
<path d="M392.15 19.45L397.05 24.35M392.15 24.35L397.05 19.45" stroke="#f00" stroke-width="1.25"/>
<text x="407.7" y="24.1" font-size="7.9" textLength="58.78" lengthAdjust="spacingAndGlyphs">Imputation Data</text>
<line x1="35.2" y1="458.5" x2="35.2" y2="461.1" stroke="#000" stroke-width="0.8"/>
<text x="35.2" y="469.4" font-size="7.9" text-anchor="middle" textLength="4.58" lengthAdjust="spacingAndGlyphs">0</text>
<line x1="83" y1="458.5" x2="83" y2="461.1" stroke="#000" stroke-width="0.8"/>
<text x="83" y="469.4" font-size="7.9" text-anchor="middle" textLength="9.16" lengthAdjust="spacingAndGlyphs">50</text>
<line x1="130.79" y1="458.5" x2="130.79" y2="461.1" stroke="#000" stroke-width="0.8"/>
<text x="130.79" y="469.4" font-size="7.9" text-anchor="middle" textLength="13.74" lengthAdjust="spacingAndGlyphs">100</text>
<line x1="178.59" y1="458.5" x2="178.59" y2="461.1" stroke="#000" stroke-width="0.8"/>
<text x="178.59" y="469.4" font-size="7.9" text-anchor="middle" textLength="13.74" lengthAdjust="spacingAndGlyphs">150</text>
<line x1="226.39" y1="458.5" x2="226.39" y2="461.1" stroke="#000" stroke-width="0.8"/>
<text x="226.39" y="469.4" font-size="7.9" text-anchor="middle" textLength="13.74" lengthAdjust="spacingAndGlyphs">200</text>
<line x1="274.18" y1="458.5" x2="274.18" y2="461.1" stroke="#000" stroke-width="0.8"/>
<text x="274.18" y="469.4" font-size="7.9" text-anchor="middle" textLength="13.74" lengthAdjust="spacingAndGlyphs">250</text>
<line x1="32.6" y1="458.5" x2="35.2" y2="458.5" stroke="#000" stroke-width="0.8"/>
<text x="30.2" y="461.7" font-size="7.9" text-anchor="end" textLength="17.48" lengthAdjust="spacingAndGlyphs">−1.5</text>
<line x1="32.6" y1="437.11" x2="35.2" y2="437.11" stroke="#000" stroke-width="0.8"/>
<text x="30.2" y="440.31" font-size="7.9" text-anchor="end" textLength="17.48" lengthAdjust="spacingAndGlyphs">−1.0</text>
<line x1="32.6" y1="415.72" x2="35.2" y2="415.72" stroke="#000" stroke-width="0.8"/>
<text x="30.2" y="418.92" font-size="7.9" text-anchor="end" textLength="17.48" lengthAdjust="spacingAndGlyphs">−0.5</text>
<line x1="32.6" y1="394.33" x2="35.2" y2="394.33" stroke="#000" stroke-width="0.8"/>
<text x="30.2" y="397.53" font-size="7.9" text-anchor="end" textLength="11.45" lengthAdjust="spacingAndGlyphs">0.0</text>
<line x1="32.6" y1="372.94" x2="35.2" y2="372.94" stroke="#000" stroke-width="0.8"/>
<text x="30.2" y="376.14" font-size="7.9" text-anchor="end" textLength="11.45" lengthAdjust="spacingAndGlyphs">0.5</text>
<line x1="32.6" y1="351.56" x2="35.2" y2="351.56" stroke="#000" stroke-width="0.8"/>
<text x="30.2" y="354.76" font-size="7.9" text-anchor="end" textLength="11.45" lengthAdjust="spacingAndGlyphs">1.0</text>
<line x1="32.6" y1="330.17" x2="35.2" y2="330.17" stroke="#000" stroke-width="0.8"/>
<text x="30.2" y="333.37" font-size="7.9" text-anchor="end" textLength="11.45" lengthAdjust="spacingAndGlyphs">1.5</text>
<line x1="32.6" y1="308.78" x2="35.2" y2="308.78" stroke="#000" stroke-width="0.8"/>
<text x="30.2" y="311.98" font-size="7.9" text-anchor="end" textLength="11.45" lengthAdjust="spacingAndGlyphs">2.0</text>
<line x1="32.6" y1="287.39" x2="35.2" y2="287.39" stroke="#000" stroke-width="0.8"/>
<text x="30.2" y="290.59" font-size="7.9" text-anchor="end" textLength="11.45" lengthAdjust="spacingAndGlyphs">2.5</text>
<line x1="32.6" y1="266" x2="35.2" y2="266" stroke="#000" stroke-width="0.8"/>
<text x="30.2" y="269.2" font-size="7.9" text-anchor="end" textLength="11.45" lengthAdjust="spacingAndGlyphs">3.0</text>
<text x="164.15" y="479.5" font-size="8.6" text-anchor="middle" textLength="44.2" lengthAdjust="spacingAndGlyphs">Time-Step</text>
<text transform="translate(7.6,362.25) rotate(-90)" font-size="8.6" text-anchor="middle" textLength="23.5" lengthAdjust="spacingAndGlyphs">Value</text>
<g clip-path="url(#clip2)">
<path d="M66.75 412.52L67.7 409.13M109.76 406.29L110.72 403.74L111.67 401.33L112.63 398.61L113.59 395.07L114.54 390.91M140.35 346.57L141.31 343.81L142.26 341.25M165.21 374.66L166.16 381.07L167.12 387.49M172.85 415.87L173.81 419.24L174.77 422.12M189.1 434.02L190.06 434.26M191.97 434.67L192.93 434.81M197.71 434.88L198.66 434.8L199.62 434.7L200.58 434.57M202.49 434.26L203.44 434.09L204.4 433.89L205.35 433.69M207.27 433.06L208.22 432.58L209.18 431.98L210.13 431.26L211.09 430.41L212.05 429.33M215.87 419.51L216.83 419.14L217.78 412.3L218.74 405.46L219.69 394.76L220.65 382.36M223.52 331.02L224.47 315.62L225.43 303.64M227.34 289.53L228.3 286.53M230.21 283.85L231.16 283L232.12 282.46M234.03 282.5L234.99 283.31L235.94 284.59L236.9 286.53L237.86 291.67M239.77 302.79L240.72 309.21M248.37 363.53L249.33 372.09M261.75 417.03L262.71 418.01M264.62 419.8L265.58 420.57L266.53 421.23M287.56 437.64L288.52 438.22M291.39 439.25L292.34 439.49" fill="none" stroke="#00f" stroke-width="1.15" stroke-linejoin="round"/>
<g fill="#00f" fill-opacity="0.55" stroke="#00f" stroke-width="1.25"><circle cx="35.2" cy="441.39" r="2.05"/><circle cx="37.11" cy="438.61" r="2.05"/><circle cx="39.02" cy="432.99" r="2.05"/><circle cx="41.89" cy="426.63" r="2.05"/><circle cx="44.76" cy="422.89" r="2.05"/><circle cx="47.63" cy="421" r="2.05"/><circle cx="50.49" cy="420.02" r="2.05"/><circle cx="53.36" cy="420.48" r="2.05"/><circle cx="55.27" cy="421.12" r="2.05"/><circle cx="58.14" cy="422.01" r="2.05"/><circle cx="61.01" cy="422.56" r="2.05"/><circle cx="63.88" cy="419.88" r="2.05"/><circle cx="66.75" cy="412.52" r="2.05"/><circle cx="67.7" cy="409.13" r="2.05"/><circle cx="69.61" cy="404.03" r="2.05"/><circle cx="74.39" cy="399.07" r="2.05"/><circle cx="81.08" cy="402.89" r="2.05"/><circle cx="88.73" cy="411.27" r="2.05"/><circle cx="91.6" cy="414.67" r="2.05"/><circle cx="93.51" cy="416.44" r="2.05"/><circle cx="96.38" cy="418.4" r="2.05"/><circle cx="98.29" cy="419.12" r="2.05"/><circle cx="103.07" cy="415.58" r="2.05"/><circle cx="107.85" cy="410.01" r="2.05"/><circle cx="109.76" cy="406.29" r="2.05"/><circle cx="110.72" cy="403.74" r="2.05"/><circle cx="111.67" cy="401.33" r="2.05"/><circle cx="112.63" cy="398.61" r="2.05"/><circle cx="113.59" cy="395.07" r="2.05"/><circle cx="114.54" cy="390.91" r="2.05"/><circle cx="122.19" cy="356.32" r="2.05"/><circle cx="130.79" cy="357.58" r="2.05"/><circle cx="135.57" cy="358.89" r="2.05"/><circle cx="140.35" cy="346.57" r="2.05"/><circle cx="141.31" cy="343.81" r="2.05"/><circle cx="142.26" cy="341.25" r="2.05"/><circle cx="146.09" cy="336.22" r="2.05"/><circle cx="148" cy="335.14" r="2.05"/><circle cx="150.87" cy="333.02" r="2.05"/><circle cx="152.78" cy="331.4" r="2.05"/><circle cx="155.65" cy="332.31" r="2.05"/><circle cx="157.56" cy="335.73" r="2.05"/><circle cx="162.34" cy="355.41" r="2.05"/><circle cx="165.21" cy="374.66" r="2.05"/><circle cx="166.16" cy="381.07" r="2.05"/><circle cx="167.12" cy="387.49" r="2.05"/><circle cx="172.85" cy="415.87" r="2.05"/><circle cx="173.81" cy="419.24" r="2.05"/><circle cx="174.77" cy="422.12" r="2.05"/><circle cx="179.54" cy="429.35" r="2.05"/><circle cx="184.32" cy="432.47" r="2.05"/><circle cx="189.1" cy="434.02" r="2.05"/><circle cx="190.06" cy="434.26" r="2.05"/><circle cx="191.97" cy="434.67" r="2.05"/><circle cx="192.93" cy="434.81" r="2.05"/><circle cx="195.8" cy="434.97" r="2.05"/><circle cx="197.71" cy="434.88" r="2.05"/><circle cx="198.66" cy="434.8" r="2.05"/><circle cx="199.62" cy="434.7" r="2.05"/><circle cx="200.58" cy="434.57" r="2.05"/><circle cx="202.49" cy="434.26" r="2.05"/><circle cx="203.44" cy="434.09" r="2.05"/><circle cx="204.4" cy="433.89" r="2.05"/><circle cx="205.35" cy="433.69" r="2.05"/><circle cx="207.27" cy="433.06" r="2.05"/><circle cx="208.22" cy="432.58" r="2.05"/><circle cx="209.18" cy="431.98" r="2.05"/><circle cx="210.13" cy="431.26" r="2.05"/><circle cx="211.09" cy="430.41" r="2.05"/><circle cx="212.05" cy="429.33" r="2.05"/><circle cx="213.96" cy="424.64" r="2.05"/><circle cx="215.87" cy="419.51" r="2.05"/><circle cx="216.83" cy="419.14" r="2.05"/><circle cx="217.78" cy="412.3" r="2.05"/><circle cx="218.74" cy="405.46" r="2.05"/><circle cx="219.69" cy="394.76" r="2.05"/><circle cx="220.65" cy="382.36" r="2.05"/><circle cx="223.52" cy="331.02" r="2.05"/><circle cx="224.47" cy="315.62" r="2.05"/><circle cx="225.43" cy="303.64" r="2.05"/><circle cx="227.34" cy="289.53" r="2.05"/><circle cx="228.3" cy="286.53" r="2.05"/><circle cx="230.21" cy="283.85" r="2.05"/><circle cx="231.16" cy="283" r="2.05"/><circle cx="232.12" cy="282.46" r="2.05"/><circle cx="234.03" cy="282.5" r="2.05"/><circle cx="234.99" cy="283.31" r="2.05"/><circle cx="235.94" cy="284.59" r="2.05"/><circle cx="236.9" cy="286.53" r="2.05"/><circle cx="237.86" cy="291.67" r="2.05"/><circle cx="239.77" cy="302.79" r="2.05"/><circle cx="240.72" cy="309.21" r="2.05"/><circle cx="245.5" cy="340.01" r="2.05"/><circle cx="248.37" cy="363.53" r="2.05"/><circle cx="249.33" cy="372.09" r="2.05"/><circle cx="252.2" cy="390.7" r="2.05"/><circle cx="255.06" cy="404.24" r="2.05"/><circle cx="258.89" cy="412.96" r="2.05"/><circle cx="261.75" cy="417.03" r="2.05"/><circle cx="262.71" cy="418.01" r="2.05"/><circle cx="264.62" cy="419.8" r="2.05"/><circle cx="265.58" cy="420.57" r="2.05"/><circle cx="266.53" cy="421.23" r="2.05"/><circle cx="269.4" cy="422.29" r="2.05"/><circle cx="272.27" cy="422.59" r="2.05"/><circle cx="278.01" cy="425.1" r="2.05"/><circle cx="279.92" cy="427.42" r="2.05"/><circle cx="282.78" cy="431.05" r="2.05"/><circle cx="287.56" cy="437.64" r="2.05"/><circle cx="288.52" cy="438.22" r="2.05"/><circle cx="291.39" cy="439.25" r="2.05"/><circle cx="292.34" cy="439.49" r="2.05"/></g>
<path d="M39.98 425.13L40.94 423.42M42.85 421.71L43.8 420.86M45.72 420L46.67 420M48.58 418.72L49.54 419.14M51.45 419.57L52.41 419.14M56.23 418.72L57.19 419.14M59.1 418.72L60.05 418.29M61.97 417.86L62.92 417.86M64.83 417.01L65.79 417.01M70.57 416.15L71.53 415.72L72.48 408.45L73.44 415.72M75.35 415.72L76.3 416.15L77.26 416.15L78.22 389.2L79.17 394.33L80.13 415.72M82.04 378.51L83 415.72L83.95 417.01L84.91 417.86L85.86 361.39L86.82 355.83L87.78 415.72M89.69 351.56L90.64 416.58M94.47 417.86L95.42 349.84M99.25 416.58L100.2 354.98L101.16 415.72L102.11 361.39M104.03 375.08L104.98 415.72L105.94 416.58L106.89 400.75M115.5 424.71L116.45 424.71L117.41 414.87L118.37 414.44L119.32 414.44L120.28 424.71L121.23 424.71M123.15 414.44L124.1 414.87L125.06 414.44L126.01 414.44L126.97 424.71L127.92 414.44L128.88 414.01L129.84 414.44M131.75 424.71L132.7 424.71L133.66 414.44L134.62 414.44M136.53 424.71L137.48 414.44L138.44 421.71L139.4 413.83M143.22 413.27L144.18 413.49L145.13 412.23M148.96 413.87L149.91 413.89M153.73 412.6L154.69 411.99M158.51 414.32L159.47 413.58L160.43 398.61L161.38 414.44M163.29 414.44L164.25 383.21M168.07 414.87L169.03 376.37L169.99 374.66L170.94 415.29L171.9 415.72M175.72 415.72L176.68 376.37L177.63 377.65L178.59 416.58M180.5 379.36L181.46 415.72L182.41 379.79L183.37 415.72M185.28 381.5L186.24 384.07L187.19 417.86L188.15 418.72M193.88 390.06L194.84 418.72M221.61 415.72L222.56 414.87M241.68 409.31L242.64 407.11L243.59 407.17L244.55 404.17M246.46 405.46L247.42 408.69M250.28 413.58L251.24 406.31M253.15 415.72L254.11 416.58M256.02 415.71L256.97 410.74L257.93 417.43M259.84 416.61L260.8 417.74M267.49 417.86L268.45 415.36M270.36 415.91L271.31 415.99M273.23 414.57L274.18 421.09L275.14 418.72L276.09 414.8L277.05 419.78M280.87 417.86L281.83 421.12M283.74 416.54L284.7 417.43L285.65 422.94L286.61 419.57M289.48 423.76L290.43 430.27" fill="none" stroke="#f00" stroke-width="1.15" stroke-linejoin="round"/>
<path d="M33.71 429.1L38.61 434M33.71 434L38.61 429.1M35.62 425.25L40.52 430.15M35.62 430.15L40.52 425.25M37.53 422.68L42.43 427.58M37.53 427.58L42.43 422.68M38.49 420.97L43.39 425.87M38.49 425.87L43.39 420.97M40.4 419.26L45.3 424.16M40.4 424.16L45.3 419.26M41.35 418.41L46.25 423.31M41.35 423.31L46.25 418.41M43.27 417.55L48.17 422.45M43.27 422.45L48.17 417.55M44.22 417.55L49.12 422.45M44.22 422.45L49.12 417.55M46.13 416.27L51.03 421.17M46.13 421.17L51.03 416.27M47.09 416.69L51.99 421.59M47.09 421.59L51.99 416.69M49 417.12L53.9 422.02M49 422.02L53.9 417.12M49.96 416.69L54.86 421.59M49.96 421.59L54.86 416.69M51.87 416.27L56.77 421.17M51.87 421.17L56.77 416.27M53.78 416.27L58.68 421.17M53.78 421.17L58.68 416.27M54.74 416.69L59.64 421.59M54.74 421.59L59.64 416.69M56.65 416.27L61.55 421.17M56.65 421.17L61.55 416.27M57.6 415.84L62.5 420.74M57.6 420.74L62.5 415.84M59.52 415.41L64.42 420.31M59.52 420.31L64.42 415.41M60.47 415.41L65.37 420.31M60.47 420.31L65.37 415.41M62.38 414.56L67.28 419.46M62.38 419.46L67.28 414.56M63.34 414.56L68.24 419.46M63.34 419.46L68.24 414.56M66.21 414.13L71.11 419.03M66.21 419.03L71.11 414.13M68.12 413.7L73.02 418.6M68.12 418.6L73.02 413.7M69.08 413.27L73.98 418.17M69.08 418.17L73.98 413.27M70.03 406L74.93 410.9M70.03 410.9L74.93 406M70.99 413.27L75.89 418.17M70.99 418.17L75.89 413.27M72.9 413.27L77.8 418.17M72.9 418.17L77.8 413.27M73.85 413.7L78.75 418.6M73.85 418.6L78.75 413.7M74.81 413.7L79.71 418.6M74.81 418.6L79.71 413.7M75.77 386.75L80.67 391.65M75.77 391.65L80.67 386.75M76.72 391.88L81.62 396.78M76.72 396.78L81.62 391.88M77.68 413.27L82.58 418.17M77.68 418.17L82.58 413.27M79.59 376.06L84.49 380.96M79.59 380.96L84.49 376.06M80.55 413.27L85.45 418.17M80.55 418.17L85.45 413.27M81.5 414.56L86.4 419.46M81.5 419.46L86.4 414.56M82.46 415.41L87.36 420.31M82.46 420.31L87.36 415.41M83.41 358.94L88.31 363.84M83.41 363.84L88.31 358.94M84.37 353.38L89.27 358.28M84.37 358.28L89.27 353.38M85.33 413.27L90.23 418.17M85.33 418.17L90.23 413.27M87.24 349.11L92.14 354.01M87.24 354.01L92.14 349.11M88.19 414.13L93.09 419.03M88.19 419.03L93.09 414.13M90.11 413.27L95.01 418.17M90.11 418.17L95.01 413.27M92.02 415.41L96.92 420.31M92.02 420.31L96.92 415.41M92.97 347.39L97.87 352.29M92.97 352.29L97.87 347.39M94.89 415.41L99.79 420.31M94.89 420.31L99.79 415.41M96.8 414.13L101.7 419.03M96.8 419.03L101.7 414.13M97.75 352.53L102.65 357.43M97.75 357.43L102.65 352.53M98.71 413.27L103.61 418.17M98.71 418.17L103.61 413.27M99.66 358.94L104.56 363.84M99.66 363.84L104.56 358.94M101.58 372.63L106.48 377.53M101.58 377.53L106.48 372.63M102.53 413.27L107.43 418.17M102.53 418.17L107.43 413.27M103.49 414.13L108.39 419.03M103.49 419.03L108.39 414.13M104.44 398.3L109.34 403.2M104.44 403.2L109.34 398.3M106.36 412.42L111.26 417.32M106.36 417.32L111.26 412.42M113.05 422.26L117.95 427.16M113.05 427.16L117.95 422.26M114 422.26L118.9 427.16M114 427.16L118.9 422.26M114.96 412.42L119.86 417.32M114.96 417.32L119.86 412.42M115.92 411.99L120.82 416.89M115.92 416.89L120.82 411.99M116.87 411.99L121.77 416.89M116.87 416.89L121.77 411.99M117.83 422.26L122.73 427.16M117.83 427.16L122.73 422.26M118.78 422.26L123.68 427.16M118.78 427.16L123.68 422.26M120.7 411.99L125.6 416.89M120.7 416.89L125.6 411.99M121.65 412.42L126.55 417.32M121.65 417.32L126.55 412.42M122.61 411.99L127.51 416.89M122.61 416.89L127.51 411.99M123.56 411.99L128.46 416.89M123.56 416.89L128.46 411.99M124.52 422.26L129.42 427.16M124.52 427.16L129.42 422.26M125.47 411.99L130.37 416.89M125.47 416.89L130.37 411.99M126.43 411.56L131.33 416.46M126.43 416.46L131.33 411.56M127.39 411.99L132.29 416.89M127.39 416.89L132.29 411.99M129.3 422.26L134.2 427.16M129.3 427.16L134.2 422.26M130.25 422.26L135.15 427.16M130.25 427.16L135.15 422.26M131.21 411.99L136.11 416.89M131.21 416.89L136.11 411.99M132.17 411.99L137.07 416.89M132.17 416.89L137.07 411.99M134.08 422.26L138.98 427.16M134.08 427.16L138.98 422.26M135.03 411.99L139.93 416.89M135.03 416.89L139.93 411.99M135.99 419.26L140.89 424.16M135.99 424.16L140.89 419.26M136.95 411.38L141.85 416.28M136.95 416.28L141.85 411.38M140.77 410.82L145.67 415.72M140.77 415.72L145.67 410.82M141.73 411.04L146.63 415.94M141.73 415.94L146.63 411.04M142.68 409.78L147.58 414.68M142.68 414.68L147.58 409.78M144.59 410.97L149.49 415.87M144.59 415.87L149.49 410.97M146.51 411.42L151.41 416.32M146.51 416.32L151.41 411.42M147.46 411.44L152.36 416.34M147.46 416.34L152.36 411.44M149.37 410.62L154.27 415.52M149.37 415.52L154.27 410.62M151.28 410.15L156.18 415.05M151.28 415.05L156.18 410.15M152.24 409.54L157.14 414.44M152.24 414.44L157.14 409.54M154.15 411.97L159.05 416.87M154.15 416.87L159.05 411.97M156.06 411.87L160.96 416.77M156.06 416.77L160.96 411.87M157.02 411.13L161.92 416.03M157.02 416.03L161.92 411.13M157.98 396.16L162.88 401.06M157.98 401.06L162.88 396.16M158.93 411.99L163.83 416.89M158.93 416.89L163.83 411.99M160.84 411.99L165.74 416.89M160.84 416.89L165.74 411.99M161.8 380.76L166.7 385.66M161.8 385.66L166.7 380.76M165.62 412.42L170.52 417.32M165.62 417.32L170.52 412.42M166.58 373.92L171.48 378.82M166.58 378.82L171.48 373.92M167.54 372.21L172.44 377.11M167.54 377.11L172.44 372.21M168.49 412.84L173.39 417.74M168.49 417.74L173.39 412.84M169.45 413.27L174.35 418.17M169.45 418.17L174.35 413.27M173.27 413.27L178.17 418.17M173.27 418.17L178.17 413.27M174.23 373.92L179.13 378.82M174.23 378.82L179.13 373.92M175.18 375.2L180.08 380.1M175.18 380.1L180.08 375.2M176.14 414.13L181.04 419.03M176.14 419.03L181.04 414.13M178.05 376.91L182.95 381.81M178.05 381.81L182.95 376.91M179.01 413.27L183.91 418.17M179.01 418.17L183.91 413.27M179.96 377.34L184.86 382.24M179.96 382.24L184.86 377.34M180.92 413.27L185.82 418.17M180.92 418.17L185.82 413.27M182.83 379.05L187.73 383.95M182.83 383.95L187.73 379.05M183.79 381.62L188.69 386.52M183.79 386.52L188.69 381.62M184.74 415.41L189.64 420.31M184.74 420.31L189.64 415.41M185.7 416.27L190.6 421.17M185.7 421.17L190.6 416.27M188.57 415.37L193.47 420.27M188.57 420.27L193.47 415.37M191.43 387.61L196.33 392.51M191.43 392.51L196.33 387.61M192.39 416.27L197.29 421.17M192.39 421.17L197.29 416.27M194.3 415.04L199.2 419.94M194.3 419.94L199.2 415.04M199.08 413.63L203.98 418.53M199.08 418.53L203.98 413.63M203.86 414.48L208.76 419.38M203.86 419.38L208.76 414.48M210.55 406L215.45 410.9M210.55 410.9L215.45 406M212.46 408.57L217.36 413.47M212.46 413.47L217.36 408.57M219.16 413.27L224.06 418.17M219.16 418.17L224.06 413.27M220.11 412.42L225.01 417.32M220.11 417.32L225.01 412.42M223.94 411.99L228.84 416.89M223.94 416.89L228.84 411.99M226.8 408.57L231.7 413.47M226.8 413.47L231.7 408.57M230.63 406L235.53 410.9M230.63 410.9L235.53 406M236.36 405.57L241.26 410.47M236.36 410.47L241.26 405.57M239.23 406.86L244.13 411.76M239.23 411.76L244.13 406.86M240.19 404.66L245.09 409.56M240.19 409.56L245.09 404.66M241.14 404.72L246.04 409.62M241.14 409.62L246.04 404.72M242.1 401.72L247 406.62M242.1 406.62L247 401.72M244.01 403.01L248.91 407.91M244.01 407.91L248.91 403.01M244.97 406.24L249.87 411.14M244.97 411.14L249.87 406.24M247.83 411.13L252.73 416.03M247.83 416.03L252.73 411.13M248.79 403.86L253.69 408.76M248.79 408.76L253.69 403.86M250.7 413.27L255.6 418.17M250.7 418.17L255.6 413.27M251.66 414.13L256.56 419.03M251.66 419.03L256.56 414.13M253.57 413.26L258.47 418.16M253.57 418.16L258.47 413.26M254.52 408.29L259.42 413.19M254.52 413.19L259.42 408.29M255.48 414.98L260.38 419.88M255.48 419.88L260.38 414.98M257.39 414.16L262.29 419.06M257.39 419.06L262.29 414.16M258.35 415.29L263.25 420.19M258.35 420.19L263.25 415.29M261.22 417.12L266.12 422.02M261.22 422.02L266.12 417.12M265.04 415.41L269.94 420.31M265.04 420.31L269.94 415.41M266 412.91L270.9 417.81M266 417.81L270.9 412.91M267.91 413.46L272.81 418.36M267.91 418.36L272.81 413.46M268.86 413.54L273.76 418.44M268.86 418.44L273.76 413.54M270.78 412.12L275.68 417.02M270.78 417.02L275.68 412.12M271.73 418.64L276.63 423.54M271.73 423.54L276.63 418.64M272.69 416.27L277.59 421.17M272.69 421.17L277.59 416.27M273.64 412.35L278.54 417.25M273.64 417.25L278.54 412.35M274.6 417.33L279.5 422.23M274.6 422.23L279.5 417.33M276.51 413.34L281.41 418.24M276.51 418.24L281.41 413.34M278.42 415.41L283.32 420.31M278.42 420.31L283.32 415.41M279.38 418.67L284.28 423.57M279.38 423.57L284.28 418.67M281.29 414.09L286.19 418.99M281.29 418.99L286.19 414.09M282.25 414.98L287.15 419.88M282.25 419.88L287.15 414.98M283.2 420.49L288.1 425.39M283.2 425.39L288.1 420.49M284.16 417.12L289.06 422.02M284.16 422.02L289.06 417.12M287.03 421.31L291.93 426.21M287.03 426.21L291.93 421.31M287.98 427.82L292.88 432.72M287.98 432.72L292.88 427.82" stroke="#f00" stroke-width="1.25" fill="none"/>
</g>
<rect x="35.2" y="266" width="258.1" height="192.5" fill="none" stroke="#1a1a1a" stroke-width="1.1"/>
<rect x="38.6" y="269.4" width="85" height="23.4" rx="1.8" fill="#fff" fill-opacity="0.8" stroke="#d5d5d5" stroke-width="0.75"/>
<line x1="40.9" y1="275.6" x2="56.9" y2="275.6" stroke="#00f" stroke-width="1.15"/>
<circle cx="48.8" cy="275.6" r="2.05" fill="#00f" fill-opacity="0.55" stroke="#00f" stroke-width="1.25"/>
<text x="61.9" y="277.8" font-size="7.9" textLength="47.65" lengthAdjust="spacingAndGlyphs">Original Data</text>
<line x1="40.9" y1="286.4" x2="56.9" y2="286.4" stroke="#f00" stroke-width="1.15"/>
<path d="M46.35 283.95L51.25 288.85M46.35 288.85L51.25 283.95" stroke="#f00" stroke-width="1.25"/>
<text x="61.9" y="288.6" font-size="7.9" textLength="58.78" lengthAdjust="spacingAndGlyphs">Imputation Data</text>
<line x1="381" y1="458.5" x2="381" y2="461.1" stroke="#000" stroke-width="0.8"/>
<text x="381" y="469.4" font-size="7.9" text-anchor="middle" textLength="4.58" lengthAdjust="spacingAndGlyphs">0</text>
<line x1="428.8" y1="458.5" x2="428.8" y2="461.1" stroke="#000" stroke-width="0.8"/>
<text x="428.8" y="469.4" font-size="7.9" text-anchor="middle" textLength="9.16" lengthAdjust="spacingAndGlyphs">50</text>
<line x1="476.59" y1="458.5" x2="476.59" y2="461.1" stroke="#000" stroke-width="0.8"/>
<text x="476.59" y="469.4" font-size="7.9" text-anchor="middle" textLength="13.74" lengthAdjust="spacingAndGlyphs">100</text>
<line x1="524.39" y1="458.5" x2="524.39" y2="461.1" stroke="#000" stroke-width="0.8"/>
<text x="524.39" y="469.4" font-size="7.9" text-anchor="middle" textLength="13.74" lengthAdjust="spacingAndGlyphs">150</text>
<line x1="572.19" y1="458.5" x2="572.19" y2="461.1" stroke="#000" stroke-width="0.8"/>
<text x="572.19" y="469.4" font-size="7.9" text-anchor="middle" textLength="13.74" lengthAdjust="spacingAndGlyphs">200</text>
<line x1="619.98" y1="458.5" x2="619.98" y2="461.1" stroke="#000" stroke-width="0.8"/>
<text x="619.98" y="469.4" font-size="7.9" text-anchor="middle" textLength="13.74" lengthAdjust="spacingAndGlyphs">250</text>
<line x1="378.4" y1="458.5" x2="381" y2="458.5" stroke="#000" stroke-width="0.8"/>
<text x="376" y="461.7" font-size="7.9" text-anchor="end" textLength="17.48" lengthAdjust="spacingAndGlyphs">−1.5</text>
<line x1="378.4" y1="437.11" x2="381" y2="437.11" stroke="#000" stroke-width="0.8"/>
<text x="376" y="440.31" font-size="7.9" text-anchor="end" textLength="17.48" lengthAdjust="spacingAndGlyphs">−1.0</text>
<line x1="378.4" y1="415.72" x2="381" y2="415.72" stroke="#000" stroke-width="0.8"/>
<text x="376" y="418.92" font-size="7.9" text-anchor="end" textLength="17.48" lengthAdjust="spacingAndGlyphs">−0.5</text>
<line x1="378.4" y1="394.33" x2="381" y2="394.33" stroke="#000" stroke-width="0.8"/>
<text x="376" y="397.53" font-size="7.9" text-anchor="end" textLength="11.45" lengthAdjust="spacingAndGlyphs">0.0</text>
<line x1="378.4" y1="372.94" x2="381" y2="372.94" stroke="#000" stroke-width="0.8"/>
<text x="376" y="376.14" font-size="7.9" text-anchor="end" textLength="11.45" lengthAdjust="spacingAndGlyphs">0.5</text>
<line x1="378.4" y1="351.56" x2="381" y2="351.56" stroke="#000" stroke-width="0.8"/>
<text x="376" y="354.76" font-size="7.9" text-anchor="end" textLength="11.45" lengthAdjust="spacingAndGlyphs">1.0</text>
<line x1="378.4" y1="330.17" x2="381" y2="330.17" stroke="#000" stroke-width="0.8"/>
<text x="376" y="333.37" font-size="7.9" text-anchor="end" textLength="11.45" lengthAdjust="spacingAndGlyphs">1.5</text>
<line x1="378.4" y1="308.78" x2="381" y2="308.78" stroke="#000" stroke-width="0.8"/>
<text x="376" y="311.98" font-size="7.9" text-anchor="end" textLength="11.45" lengthAdjust="spacingAndGlyphs">2.0</text>
<line x1="378.4" y1="287.39" x2="381" y2="287.39" stroke="#000" stroke-width="0.8"/>
<text x="376" y="290.59" font-size="7.9" text-anchor="end" textLength="11.45" lengthAdjust="spacingAndGlyphs">2.5</text>
<line x1="378.4" y1="266" x2="381" y2="266" stroke="#000" stroke-width="0.8"/>
<text x="376" y="269.2" font-size="7.9" text-anchor="end" textLength="11.45" lengthAdjust="spacingAndGlyphs">3.0</text>
<text x="509.95" y="479.5" font-size="8.6" text-anchor="middle" textLength="44.2" lengthAdjust="spacingAndGlyphs">Time-Step</text>
<text transform="translate(353.4,362.25) rotate(-90)" font-size="8.6" text-anchor="middle" textLength="23.5" lengthAdjust="spacingAndGlyphs">Value</text>
<g clip-path="url(#clip3)">
<path d="M458.43 398.61L459.39 395.07M564.54 405.46L565.49 394.76L566.45 382.36M582.7 286.53L583.66 291.67" fill="none" stroke="#00f" stroke-width="1.15" stroke-linejoin="round"/>
<g fill="#00f" fill-opacity="0.55" stroke="#00f" stroke-width="1.25"><circle cx="381" cy="441.39" r="2.05"/><circle cx="387.69" cy="426.63" r="2.05"/><circle cx="390.56" cy="422.89" r="2.05"/><circle cx="394.38" cy="420.54" r="2.05"/><circle cx="402.03" cy="421.39" r="2.05"/><circle cx="411.59" cy="415.87" r="2.05"/><circle cx="420.19" cy="399.07" r="2.05"/><circle cx="425.93" cy="402.11" r="2.05"/><circle cx="428.8" cy="404.68" r="2.05"/><circle cx="445.05" cy="419.05" r="2.05"/><circle cx="454.61" cy="408.45" r="2.05"/><circle cx="456.52" cy="403.74" r="2.05"/><circle cx="458.43" cy="398.61" r="2.05"/><circle cx="459.39" cy="395.07" r="2.05"/><circle cx="461.3" cy="386.33" r="2.05"/><circle cx="468.95" cy="355.48" r="2.05"/><circle cx="476.59" cy="357.58" r="2.05"/><circle cx="481.37" cy="358.89" r="2.05"/><circle cx="486.15" cy="346.57" r="2.05"/><circle cx="488.06" cy="341.25" r="2.05"/><circle cx="489.98" cy="337.77" r="2.05"/><circle cx="495.71" cy="333.86" r="2.05"/><circle cx="508.14" cy="355.41" r="2.05"/><circle cx="511.96" cy="381.07" r="2.05"/><circle cx="519.61" cy="419.24" r="2.05"/><circle cx="524.39" cy="428.36" r="2.05"/><circle cx="529.17" cy="431.99" r="2.05"/><circle cx="533.95" cy="433.76" r="2.05"/><circle cx="538.73" cy="434.81" r="2.05"/><circle cx="543.51" cy="434.88" r="2.05"/><circle cx="554.02" cy="432.58" r="2.05"/><circle cx="555.93" cy="431.26" r="2.05"/><circle cx="564.54" cy="405.46" r="2.05"/><circle cx="565.49" cy="394.76" r="2.05"/><circle cx="566.45" cy="382.36" r="2.05"/><circle cx="573.14" cy="289.53" r="2.05"/><circle cx="577.92" cy="282.46" r="2.05"/><circle cx="582.7" cy="286.53" r="2.05"/><circle cx="583.66" cy="291.67" r="2.05"/><circle cx="585.57" cy="302.79" r="2.05"/><circle cx="595.13" cy="372.09" r="2.05"/><circle cx="599.91" cy="399.47" r="2.05"/><circle cx="606.6" cy="415.88" r="2.05"/><circle cx="611.38" cy="420.57" r="2.05"/><circle cx="615.2" cy="422.29" r="2.05"/><circle cx="618.07" cy="422.59" r="2.05"/><circle cx="619.98" cy="422.81" r="2.05"/><circle cx="621.89" cy="423.4" r="2.05"/><circle cx="625.72" cy="427.42" r="2.05"/><circle cx="628.58" cy="431.05" r="2.05"/><circle cx="635.28" cy="438.64" r="2.05"/><circle cx="637.19" cy="439.25" r="2.05"/></g>
<path d="M381.96 430.69L382.91 415.72L383.87 429.41L384.82 417.86L385.78 426.42L386.74 415.72M388.65 415.89L389.6 414.55M391.52 414.69L392.47 412.97L393.43 413.44M395.34 414.23L396.29 414.18L397.25 414.14L398.21 413.46L399.16 413.75L400.12 413.13L401.07 413.49M402.99 413.05L403.94 412.81L404.9 414.56L405.85 413.41L406.81 413.04L407.77 412.93L408.72 413.39L409.68 414.04L410.63 413.47M412.55 414.14L413.5 413.24L414.46 412.14L415.41 414.2L416.37 412.5L417.33 412.7L418.28 411.82L419.24 404.6M421.15 412.9L422.1 412.65L423.06 390.48L424.02 412.09L424.97 412.77M426.88 411.85L427.84 412.84M429.75 413.37L430.71 413.3L431.66 356.26L432.62 413.38L433.58 413.81L434.53 414.08L435.49 411.91L436.44 348.13L437.4 412.16L438.36 412.38L439.31 412.88L440.27 347.28L441.22 412.36L442.18 413.06L443.14 412.45L444.09 412.11M446 351.13L446.96 412.93L447.91 412.26L448.87 412.38L449.83 413.24L450.78 413.9L451.74 412.07L452.69 398.61L453.65 412.47M462.25 412.5L463.21 424.28L464.17 412.62L465.12 424.28L466.08 412.9L467.03 413.03L467.99 412.91M469.9 412.76L470.86 413.33L471.81 412.38L472.77 413.13L473.72 424.28L474.68 412.18L475.64 412.93M477.55 424.28L478.5 412.9L479.46 412.7L480.42 411.63M482.33 423.42L483.28 412.48L484.24 412.13L485.2 413.49M490.93 412.71L491.89 420.86L492.84 413.07L493.8 417.86L494.76 413.07M496.67 412.68L497.62 412.89L498.58 411.18L499.53 411.73L500.49 412.77L501.45 412.79L502.4 413.23L503.36 412.89L504.31 412.14L505.27 412.56L506.23 396.04L507.18 411.8M509.09 412.27L510.05 412.48L511.01 384.07M512.92 412.25L513.87 412.06L514.83 411.88L515.79 412.59L516.74 412.25L517.7 411.87L518.65 412.19M520.57 412.25L521.52 413.28L522.48 373.37L523.43 413.73M525.34 413.34L526.3 412.28L527.26 375.94L528.21 411.93M530.12 412.38L531.08 379.36L532.04 412.65L532.99 411.32M534.9 412.38L535.86 412.03L536.82 384.92L537.77 412.59M539.68 413.19L540.64 384.92L541.6 411.95L542.55 412M544.46 412.54L545.42 412.57L546.38 412.51L547.33 412.37L548.29 412.02L549.24 384.07L550.2 412.87L551.15 411.76L552.11 412.09L553.07 412.63M556.89 412.25L557.85 398.61L558.8 412.7L559.76 412.27L560.71 405.03L561.67 411.77L562.63 412.87L563.58 412.44M567.41 412.9L568.36 412.54L569.32 412.44L570.27 412.02L571.23 413.6L572.19 413.2M574.1 411.6L575.05 412.22L576.01 412.08L576.96 411.77M578.88 414.23L579.83 413L580.79 411.65L581.74 412.9M586.52 412.05L587.48 412.56L588.44 412.88L589.39 412.14L590.35 411.3L591.3 412.49L592.26 412.31L593.22 407.17L594.17 413M596.08 408.45L597.04 412.38L598 412.63L598.95 412.02M600.86 407.17L601.82 412.68L602.77 416.58L603.73 411.95L604.69 412.05L605.64 412.8M607.55 412.76L608.51 413.22L609.47 412.96L610.42 412.36M612.33 412.44L613.29 411.64L614.25 411.67M616.16 417.86L617.11 412.37M622.85 411.13L623.81 412.85L624.76 411.84M626.67 412.52L627.63 416.58M629.54 413.11L630.5 413.44L631.45 418.72L632.41 412.43L633.36 412.51L634.32 412.05" fill="none" stroke="#f00" stroke-width="1.15" stroke-linejoin="round"/>
<path d="M379.51 428.24L384.41 433.14M379.51 433.14L384.41 428.24M380.46 413.27L385.36 418.17M380.46 418.17L385.36 413.27M381.42 426.96L386.32 431.86M381.42 431.86L386.32 426.96M382.37 415.41L387.27 420.31M382.37 420.31L387.27 415.41M383.33 423.97L388.23 428.87M383.33 428.87L388.23 423.97M384.29 413.27L389.19 418.17M384.29 418.17L389.19 413.27M386.2 413.44L391.1 418.34M386.2 418.34L391.1 413.44M387.15 412.1L392.05 417M387.15 417L392.05 412.1M389.07 412.24L393.97 417.14M389.07 417.14L393.97 412.24M390.02 410.52L394.92 415.42M390.02 415.42L394.92 410.52M390.98 410.99L395.88 415.89M390.98 415.89L395.88 410.99M392.89 411.78L397.79 416.68M392.89 416.68L397.79 411.78M393.84 411.73L398.74 416.63M393.84 416.63L398.74 411.73M394.8 411.69L399.7 416.59M394.8 416.59L399.7 411.69M395.76 411.01L400.66 415.91M395.76 415.91L400.66 411.01M396.71 411.3L401.61 416.2M396.71 416.2L401.61 411.3M397.67 410.68L402.57 415.58M397.67 415.58L402.57 410.68M398.62 411.04L403.52 415.94M398.62 415.94L403.52 411.04M400.54 410.6L405.44 415.5M400.54 415.5L405.44 410.6M401.49 410.36L406.39 415.26M401.49 415.26L406.39 410.36M402.45 412.11L407.35 417.01M402.45 417.01L407.35 412.11M403.4 410.96L408.3 415.86M403.4 415.86L408.3 410.96M404.36 410.59L409.26 415.49M404.36 415.49L409.26 410.59M405.32 410.48L410.22 415.38M405.32 415.38L410.22 410.48M406.27 410.94L411.17 415.84M406.27 415.84L411.17 410.94M407.23 411.59L412.13 416.49M407.23 416.49L412.13 411.59M408.18 411.02L413.08 415.92M408.18 415.92L413.08 411.02M410.1 411.69L415 416.59M410.1 416.59L415 411.69M411.05 410.79L415.95 415.69M411.05 415.69L415.95 410.79M412.01 409.69L416.91 414.59M412.01 414.59L416.91 409.69M412.96 411.75L417.86 416.65M412.96 416.65L417.86 411.75M413.92 410.05L418.82 414.95M413.92 414.95L418.82 410.05M414.88 410.25L419.78 415.15M414.88 415.15L419.78 410.25M415.83 409.37L420.73 414.27M415.83 414.27L420.73 409.37M416.79 402.15L421.69 407.05M416.79 407.05L421.69 402.15M418.7 410.45L423.6 415.35M418.7 415.35L423.6 410.45M419.65 410.2L424.55 415.1M419.65 415.1L424.55 410.2M420.61 388.03L425.51 392.93M420.61 392.93L425.51 388.03M421.57 409.64L426.47 414.54M421.57 414.54L426.47 409.64M422.52 410.32L427.42 415.22M422.52 415.22L427.42 410.32M424.43 409.4L429.33 414.3M424.43 414.3L429.33 409.4M425.39 410.39L430.29 415.29M425.39 415.29L430.29 410.39M427.3 410.92L432.2 415.82M427.3 415.82L432.2 410.92M428.26 410.85L433.16 415.75M428.26 415.75L433.16 410.85M429.21 353.81L434.11 358.71M429.21 358.71L434.11 353.81M430.17 410.93L435.07 415.83M430.17 415.83L435.07 410.93M431.13 411.36L436.03 416.26M431.13 416.26L436.03 411.36M432.08 411.63L436.98 416.53M432.08 416.53L436.98 411.63M433.04 409.46L437.94 414.36M433.04 414.36L437.94 409.46M433.99 345.68L438.89 350.58M433.99 350.58L438.89 345.68M434.95 409.71L439.85 414.61M434.95 414.61L439.85 409.71M435.91 409.93L440.81 414.83M435.91 414.83L440.81 409.93M436.86 410.43L441.76 415.33M436.86 415.33L441.76 410.43M437.82 344.83L442.72 349.73M437.82 349.73L442.72 344.83M438.77 409.91L443.67 414.81M438.77 414.81L443.67 409.91M439.73 410.61L444.63 415.51M439.73 415.51L444.63 410.61M440.69 410L445.59 414.9M440.69 414.9L445.59 410M441.64 409.66L446.54 414.56M441.64 414.56L446.54 409.66M443.55 348.68L448.45 353.58M443.55 353.58L448.45 348.68M444.51 410.48L449.41 415.38M444.51 415.38L449.41 410.48M445.46 409.81L450.36 414.71M445.46 414.71L450.36 409.81M446.42 409.93L451.32 414.83M446.42 414.83L451.32 409.93M447.38 410.79L452.28 415.69M447.38 415.69L452.28 410.79M448.33 411.45L453.23 416.35M448.33 416.35L453.23 411.45M449.29 409.62L454.19 414.52M449.29 414.52L454.19 409.62M450.24 396.16L455.14 401.06M450.24 401.06L455.14 396.16M451.2 410.02L456.1 414.92M451.2 414.92L456.1 410.02M453.11 409.85L458.01 414.75M453.11 414.75L458.01 409.85M455.02 410.81L459.92 415.71M455.02 415.71L459.92 410.81M457.89 410.82L462.79 415.72M457.89 415.72L462.79 410.82M459.8 410.05L464.7 414.95M459.8 414.95L464.7 410.05M460.76 421.83L465.66 426.73M460.76 426.73L465.66 421.83M461.72 410.17L466.62 415.07M461.72 415.07L466.62 410.17M462.67 421.83L467.57 426.73M462.67 426.73L467.57 421.83M463.63 410.45L468.53 415.35M463.63 415.35L468.53 410.45M464.58 410.58L469.48 415.48M464.58 415.48L469.48 410.58M465.54 410.46L470.44 415.36M465.54 415.36L470.44 410.46M467.45 410.31L472.35 415.21M467.45 415.21L472.35 410.31M468.41 410.88L473.31 415.78M468.41 415.78L473.31 410.88M469.36 409.93L474.26 414.83M469.36 414.83L474.26 409.93M470.32 410.68L475.22 415.58M470.32 415.58L475.22 410.68M471.27 421.83L476.17 426.73M471.27 426.73L476.17 421.83M472.23 409.73L477.13 414.63M472.23 414.63L477.13 409.73M473.19 410.48L478.09 415.38M473.19 415.38L478.09 410.48M475.1 421.83L480 426.73M475.1 426.73L480 421.83M476.05 410.45L480.95 415.35M476.05 415.35L480.95 410.45M477.01 410.25L481.91 415.15M477.01 415.15L481.91 410.25M477.97 409.18L482.87 414.08M477.97 414.08L482.87 409.18M479.88 420.97L484.78 425.87M479.88 425.87L484.78 420.97M480.83 410.03L485.73 414.93M480.83 414.93L485.73 410.03M481.79 409.68L486.69 414.58M481.79 414.58L486.69 409.68M482.75 411.04L487.65 415.94M482.75 415.94L487.65 411.04M484.66 420.12L489.56 425.02M484.66 425.02L489.56 420.12M486.57 409.36L491.47 414.26M486.57 414.26L491.47 409.36M488.48 410.26L493.38 415.16M488.48 415.16L493.38 410.26M489.44 418.41L494.34 423.31M489.44 423.31L494.34 418.41M490.39 410.62L495.29 415.52M490.39 415.52L495.29 410.62M491.35 415.41L496.25 420.31M491.35 420.31L496.25 415.41M492.31 410.62L497.21 415.52M492.31 415.52L497.21 410.62M494.22 410.23L499.12 415.13M494.22 415.13L499.12 410.23M495.17 410.44L500.07 415.34M495.17 415.34L500.07 410.44M496.13 408.73L501.03 413.63M496.13 413.63L501.03 408.73M497.08 409.28L501.98 414.18M497.08 414.18L501.98 409.28M498.04 410.32L502.94 415.22M498.04 415.22L502.94 410.32M499 410.34L503.9 415.24M499 415.24L503.9 410.34M499.95 410.78L504.85 415.68M499.95 415.68L504.85 410.78M500.91 410.44L505.81 415.34M500.91 415.34L505.81 410.44M501.86 409.69L506.76 414.59M501.86 414.59L506.76 409.69M502.82 410.11L507.72 415.01M502.82 415.01L507.72 410.11M503.78 393.59L508.68 398.49M503.78 398.49L508.68 393.59M504.73 409.35L509.63 414.25M504.73 414.25L509.63 409.35M506.64 409.82L511.54 414.72M506.64 414.72L511.54 409.82M507.6 410.03L512.5 414.93M507.6 414.93L512.5 410.03M508.56 381.62L513.46 386.52M508.56 386.52L513.46 381.62M510.47 409.8L515.37 414.7M510.47 414.7L515.37 409.8M511.42 409.61L516.32 414.51M511.42 414.51L516.32 409.61M512.38 409.43L517.28 414.33M512.38 414.33L517.28 409.43M513.34 410.14L518.24 415.04M513.34 415.04L518.24 410.14M514.29 409.8L519.19 414.7M514.29 414.7L519.19 409.8M515.25 409.42L520.15 414.32M515.25 414.32L520.15 409.42M516.2 409.74L521.1 414.64M516.2 414.64L521.1 409.74M518.12 409.8L523.02 414.7M518.12 414.7L523.02 409.8M519.07 410.83L523.97 415.73M519.07 415.73L523.97 410.83M520.03 370.92L524.93 375.82M520.03 375.82L524.93 370.92M520.98 411.28L525.88 416.18M520.98 416.18L525.88 411.28M522.89 410.89L527.79 415.79M522.89 415.79L527.79 410.89M523.85 409.83L528.75 414.73M523.85 414.73L528.75 409.83M524.81 373.49L529.71 378.39M524.81 378.39L529.71 373.49M525.76 409.48L530.66 414.38M525.76 414.38L530.66 409.48M527.67 409.93L532.57 414.83M527.67 414.83L532.57 409.93M528.63 376.91L533.53 381.81M528.63 381.81L533.53 376.91M529.59 410.2L534.49 415.1M529.59 415.1L534.49 410.2M530.54 408.87L535.44 413.77M530.54 413.77L535.44 408.87M532.45 409.93L537.35 414.83M532.45 414.83L537.35 409.93M533.41 409.58L538.31 414.48M533.41 414.48L538.31 409.58M534.37 382.47L539.27 387.37M534.37 387.37L539.27 382.47M535.32 410.14L540.22 415.04M535.32 415.04L540.22 410.14M537.23 410.74L542.13 415.64M537.23 415.64L542.13 410.74M538.19 382.47L543.09 387.37M538.19 387.37L543.09 382.47M539.15 409.5L544.05 414.4M539.15 414.4L544.05 409.5M540.1 409.55L545 414.45M540.1 414.45L545 409.55M542.01 410.09L546.91 414.99M542.01 414.99L546.91 410.09M542.97 410.12L547.87 415.02M542.97 415.02L547.87 410.12M543.93 410.06L548.83 414.96M543.93 414.96L548.83 410.06M544.88 409.92L549.78 414.82M544.88 414.82L549.78 409.92M545.84 409.57L550.74 414.47M545.84 414.47L550.74 409.57M546.79 381.62L551.69 386.52M546.79 386.52L551.69 381.62M547.75 410.42L552.65 415.32M547.75 415.32L552.65 410.42M548.7 409.31L553.6 414.21M548.7 414.21L553.6 409.31M549.66 409.64L554.56 414.54M549.66 414.54L554.56 409.64M550.62 410.18L555.52 415.08M550.62 415.08L555.52 410.18M552.53 410.06L557.43 414.96M552.53 414.96L557.43 410.06M554.44 409.8L559.34 414.7M554.44 414.7L559.34 409.8M555.4 396.16L560.3 401.06M555.4 401.06L560.3 396.16M556.35 410.25L561.25 415.15M556.35 415.15L561.25 410.25M557.31 409.82L562.21 414.72M557.31 414.72L562.21 409.82M558.26 402.58L563.16 407.48M558.26 407.48L563.16 402.58M559.22 409.32L564.12 414.22M559.22 414.22L564.12 409.32M560.18 410.42L565.08 415.32M560.18 415.32L565.08 410.42M561.13 409.99L566.03 414.89M561.13 414.89L566.03 409.99M564.96 410.45L569.86 415.35M564.96 415.35L569.86 410.45M565.91 410.09L570.81 414.99M565.91 414.99L570.81 410.09M566.87 409.99L571.77 414.89M566.87 414.89L571.77 409.99M567.82 409.57L572.72 414.47M567.82 414.47L572.72 409.57M568.78 411.15L573.68 416.05M568.78 416.05L573.68 411.15M569.74 410.75L574.64 415.65M569.74 415.65L574.64 410.75M571.65 409.15L576.55 414.05M571.65 414.05L576.55 409.15M572.6 409.77L577.5 414.67M572.6 414.67L577.5 409.77M573.56 409.63L578.46 414.53M573.56 414.53L578.46 409.63M574.51 409.32L579.41 414.22M574.51 414.22L579.41 409.32M576.43 411.78L581.33 416.68M576.43 416.68L581.33 411.78M577.38 410.55L582.28 415.45M577.38 415.45L582.28 410.55M578.34 409.2L583.24 414.1M578.34 414.1L583.24 409.2M579.29 410.45L584.19 415.35M579.29 415.35L584.19 410.45M582.16 409.99L587.06 414.89M582.16 414.89L587.06 409.99M584.07 409.6L588.97 414.5M584.07 414.5L588.97 409.6M585.03 410.11L589.93 415.01M585.03 415.01L589.93 410.11M585.99 410.43L590.89 415.33M585.99 415.33L590.89 410.43M586.94 409.69L591.84 414.59M586.94 414.59L591.84 409.69M587.9 408.85L592.8 413.75M587.9 413.75L592.8 408.85M588.85 410.04L593.75 414.94M588.85 414.94L593.75 410.04M589.81 409.86L594.71 414.76M589.81 414.76L594.71 409.86M590.77 404.72L595.67 409.62M590.77 409.62L595.67 404.72M591.72 410.55L596.62 415.45M591.72 415.45L596.62 410.55M593.63 406L598.53 410.9M593.63 410.9L598.53 406M594.59 409.93L599.49 414.83M594.59 414.83L599.49 409.93M595.55 410.18L600.45 415.08M595.55 415.08L600.45 410.18M596.5 409.57L601.4 414.47M596.5 414.47L601.4 409.57M598.41 404.72L603.31 409.62M598.41 409.62L603.31 404.72M599.37 410.23L604.27 415.13M599.37 415.13L604.27 410.23M600.32 414.13L605.22 419.03M600.32 419.03L605.22 414.13M601.28 409.5L606.18 414.4M601.28 414.4L606.18 409.5M602.24 409.6L607.14 414.5M602.24 414.5L607.14 409.6M603.19 410.35L608.09 415.25M603.19 415.25L608.09 410.35M605.1 410.31L610 415.21M605.1 415.21L610 410.31M606.06 410.77L610.96 415.67M606.06 415.67L610.96 410.77M607.02 410.51L611.92 415.41M607.02 415.41L611.92 410.51M607.97 409.91L612.87 414.81M607.97 414.81L612.87 409.91M609.88 409.99L614.78 414.89M609.88 414.89L614.78 409.99M610.84 409.19L615.74 414.09M610.84 414.09L615.74 409.19M611.8 409.22L616.7 414.12M611.8 414.12L616.7 409.22M613.71 415.41L618.61 420.31M613.71 420.31L618.61 415.41M614.66 409.92L619.56 414.82M614.66 414.82L619.56 409.92M616.58 409.79L621.48 414.69M616.58 414.69L621.48 409.79M618.49 409.88L623.39 414.78M618.49 414.78L623.39 409.88M620.4 408.68L625.3 413.58M620.4 413.58L625.3 408.68M621.36 410.4L626.26 415.3M621.36 415.3L626.26 410.4M622.31 409.39L627.21 414.29M622.31 414.29L627.21 409.39M624.22 410.07L629.12 414.97M624.22 414.97L629.12 410.07M625.18 414.13L630.08 419.03M625.18 419.03L630.08 414.13M627.09 410.66L631.99 415.56M627.09 415.56L631.99 410.66M628.05 410.99L632.95 415.89M628.05 415.89L632.95 410.99M629 416.27L633.9 421.17M629 421.17L633.9 416.27M629.96 409.98L634.86 414.88M629.96 414.88L634.86 409.98M630.91 410.06L635.81 414.96M630.91 414.96L635.81 410.06M631.87 409.6L636.77 414.5M631.87 414.5L636.77 409.6M633.78 409.88L638.68 414.78M633.78 414.78L638.68 409.88M635.69 410.57L640.59 415.47M635.69 415.47L640.59 410.57" stroke="#f00" stroke-width="1.25" fill="none"/>
</g>
<rect x="381" y="266" width="258.1" height="192.5" fill="none" stroke="#1a1a1a" stroke-width="1.1"/>
<rect x="384.4" y="269.4" width="85" height="23.4" rx="1.8" fill="#fff" fill-opacity="0.8" stroke="#d5d5d5" stroke-width="0.75"/>
<line x1="386.7" y1="275.6" x2="402.7" y2="275.6" stroke="#00f" stroke-width="1.15"/>
<circle cx="394.6" cy="275.6" r="2.05" fill="#00f" fill-opacity="0.55" stroke="#00f" stroke-width="1.25"/>
<text x="407.7" y="277.8" font-size="7.9" textLength="47.65" lengthAdjust="spacingAndGlyphs">Original Data</text>
<line x1="386.7" y1="286.4" x2="402.7" y2="286.4" stroke="#f00" stroke-width="1.15"/>
<path d="M392.15 283.95L397.05 288.85M392.15 288.85L397.05 283.95" stroke="#f00" stroke-width="1.25"/>
<text x="407.7" y="288.6" font-size="7.9" textLength="58.78" lengthAdjust="spacingAndGlyphs">Imputation Data</text>
</g>
<text x="147.65" y="254.2" font-family='"Liberation Serif", serif' font-size="22.6" text-anchor="middle" textLength="73.89" lengthAdjust="spacingAndGlyphs">(a) 20%</text>
<text x="493.4" y="254.2" font-family='"Liberation Serif", serif' font-size="22.6" text-anchor="middle" textLength="75.19" lengthAdjust="spacingAndGlyphs">(b) 40%</text>
<text x="147.65" y="518.7" font-family='"Liberation Serif", serif' font-size="22.6" text-anchor="middle" textLength="73.89" lengthAdjust="spacingAndGlyphs">(c) 60%</text>
<text x="493.4" y="518.7" font-family='"Liberation Serif", serif' font-size="22.6" text-anchor="middle" textLength="75.19" lengthAdjust="spacingAndGlyphs">(d) 80%</text>
<g font-family='"Liberation Serif", serif' font-size="24.8"><text x="1.2" y="564.2" textLength="40" lengthAdjust="spacingAndGlyphs">Fig.</text><text x="47" y="564.2" textLength="19.5" lengthAdjust="spacingAndGlyphs">2:</text><text x="73.3" y="564.2" textLength="108.5" lengthAdjust="spacingAndGlyphs">Imputation</text><text x="190.6" y="564.2" textLength="66.5" lengthAdjust="spacingAndGlyphs">results</text><text x="265" y="564.2" textLength="21" lengthAdjust="spacingAndGlyphs">of</text><text x="295" y="564.2" textLength="71.5" lengthAdjust="spacingAndGlyphs">BRITS</text><text x="373.3" y="564.2" textLength="19.5" lengthAdjust="spacingAndGlyphs">in</text><text x="399.5" y="564.2" textLength="86.5" lengthAdjust="spacingAndGlyphs">different</text><text x="492.3" y="564.2" textLength="75.5" lengthAdjust="spacingAndGlyphs">missing</text><text x="572.3" y="564.2" textLength="63.5" lengthAdjust="spacingAndGlyphs">ratios.</text></g>
</svg></body></html>
